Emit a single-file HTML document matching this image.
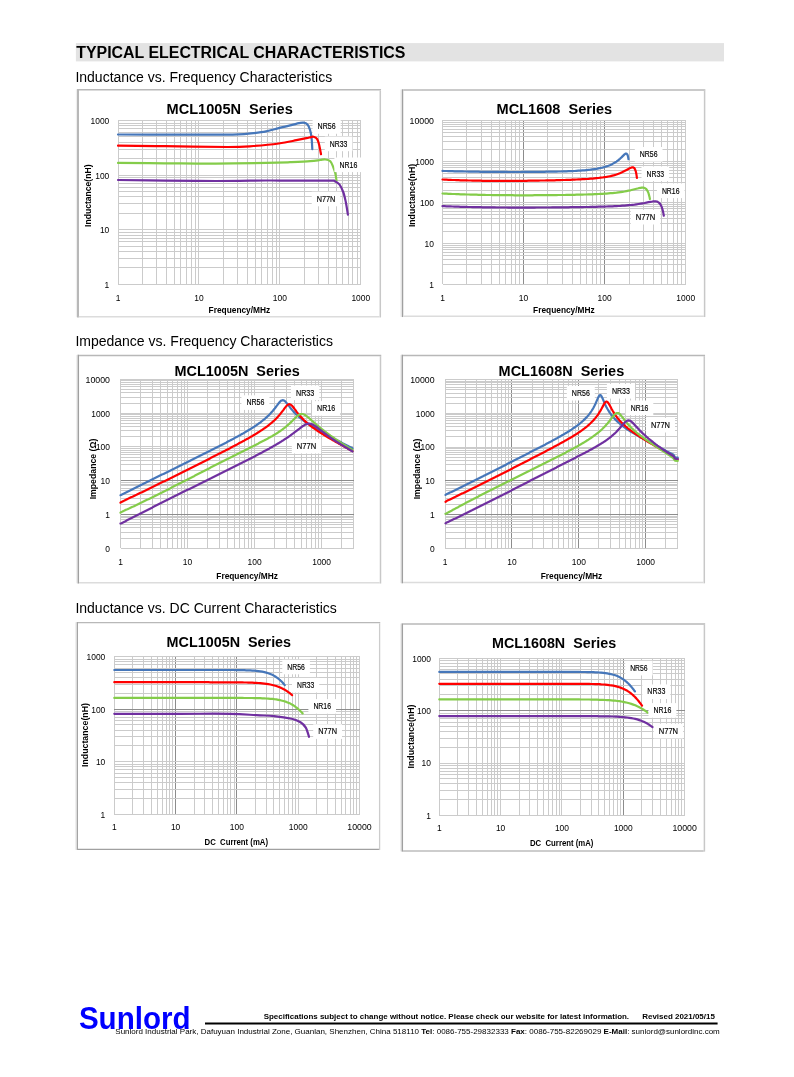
<!DOCTYPE html>
<html><head><meta charset="utf-8"><title>Typical Electrical Characteristics</title>
<style>html,body{margin:0;padding:0;background:#fff;}svg{display:block;will-change:transform;}text{white-space:pre;}</style></head>
<body><svg width="794" height="1077" viewBox="0 0 794 1077" font-family="'Liberation Sans', Arial, sans-serif">
<rect x="75.9" y="43.1" width="648.1" height="18.3" fill="#e3e3e3"/>
<text x="76.20" y="58.20" font-size="16" font-weight="bold" textLength="329.30" lengthAdjust="spacingAndGlyphs">TYPICAL ELECTRICAL CHARACTERISTICS</text>
<text x="75.40" y="81.90" font-size="14" textLength="256.80" lengthAdjust="spacingAndGlyphs">Inductance vs. Frequency Characteristics</text>
<text x="75.40" y="345.60" font-size="14">Impedance vs. Frequency Characteristics</text>
<text x="75.40" y="612.60" font-size="14">Inductance vs. DC Current Characteristics</text>
<rect x="78.00" y="89.80" width="302.30" height="226.90" fill="#fff"/>
<line x1="76.40" y1="89.30" x2="76.40" y2="317.20" stroke="#ececec" stroke-width="1"/>
<line x1="78.00" y1="89.05" x2="78.00" y2="317.45" stroke="#a0a0a0" stroke-width="1.5"/>
<line x1="78.75" y1="89.80" x2="381.05" y2="89.80" stroke="#b8b8b8" stroke-width="1.5"/>
<line x1="380.30" y1="90.55" x2="380.30" y2="317.45" stroke="#c8c8c8" stroke-width="1.5"/>
<line x1="78.75" y1="316.70" x2="379.55" y2="316.70" stroke="#dcdcdc" stroke-width="1.5"/>
<text x="229.70" y="114.20" font-size="14.3" font-weight="bold" text-anchor="middle" textLength="126.20" lengthAdjust="spacingAndGlyphs" xml:space="preserve">MCL1005N  Series</text>
<g stroke-width="1" shape-rendering="crispEdges"><line x1="118.00" y1="120.50" x2="118.00" y2="284.40" stroke="#cbcbcb"/><line x1="142.36" y1="120.50" x2="142.36" y2="284.40" stroke="#cbcbcb"/><line x1="156.62" y1="120.50" x2="156.62" y2="284.40" stroke="#cbcbcb"/><line x1="166.73" y1="120.50" x2="166.73" y2="284.40" stroke="#cbcbcb"/><line x1="174.57" y1="120.50" x2="174.57" y2="284.40" stroke="#cbcbcb"/><line x1="180.98" y1="120.50" x2="180.98" y2="284.40" stroke="#cbcbcb"/><line x1="186.40" y1="120.50" x2="186.40" y2="284.40" stroke="#cbcbcb"/><line x1="191.09" y1="120.50" x2="191.09" y2="284.40" stroke="#cbcbcb"/><line x1="195.23" y1="120.50" x2="195.23" y2="284.40" stroke="#cbcbcb"/><line x1="198.93" y1="120.50" x2="198.93" y2="284.40" stroke="#cbcbcb"/><line x1="223.30" y1="120.50" x2="223.30" y2="284.40" stroke="#cbcbcb"/><line x1="237.55" y1="120.50" x2="237.55" y2="284.40" stroke="#cbcbcb"/><line x1="247.66" y1="120.50" x2="247.66" y2="284.40" stroke="#cbcbcb"/><line x1="255.50" y1="120.50" x2="255.50" y2="284.40" stroke="#cbcbcb"/><line x1="261.91" y1="120.50" x2="261.91" y2="284.40" stroke="#cbcbcb"/><line x1="267.33" y1="120.50" x2="267.33" y2="284.40" stroke="#cbcbcb"/><line x1="272.02" y1="120.50" x2="272.02" y2="284.40" stroke="#cbcbcb"/><line x1="276.16" y1="120.50" x2="276.16" y2="284.40" stroke="#cbcbcb"/><line x1="279.87" y1="120.50" x2="279.87" y2="284.40" stroke="#cbcbcb"/><line x1="304.23" y1="120.50" x2="304.23" y2="284.40" stroke="#cbcbcb"/><line x1="318.48" y1="120.50" x2="318.48" y2="284.40" stroke="#cbcbcb"/><line x1="328.59" y1="120.50" x2="328.59" y2="284.40" stroke="#cbcbcb"/><line x1="336.44" y1="120.50" x2="336.44" y2="284.40" stroke="#cbcbcb"/><line x1="342.85" y1="120.50" x2="342.85" y2="284.40" stroke="#cbcbcb"/><line x1="348.26" y1="120.50" x2="348.26" y2="284.40" stroke="#cbcbcb"/><line x1="352.96" y1="120.50" x2="352.96" y2="284.40" stroke="#cbcbcb"/><line x1="357.10" y1="120.50" x2="357.10" y2="284.40" stroke="#cbcbcb"/><line x1="360.80" y1="120.50" x2="360.80" y2="284.40" stroke="#cbcbcb"/><line x1="118.00" y1="284.40" x2="360.80" y2="284.40" stroke="#cbcbcb"/><line x1="118.00" y1="267.95" x2="360.80" y2="267.95" stroke="#cbcbcb"/><line x1="118.00" y1="258.33" x2="360.80" y2="258.33" stroke="#cbcbcb"/><line x1="118.00" y1="251.51" x2="360.80" y2="251.51" stroke="#cbcbcb"/><line x1="118.00" y1="246.21" x2="360.80" y2="246.21" stroke="#cbcbcb"/><line x1="118.00" y1="241.89" x2="360.80" y2="241.89" stroke="#cbcbcb"/><line x1="118.00" y1="238.23" x2="360.80" y2="238.23" stroke="#cbcbcb"/><line x1="118.00" y1="235.06" x2="360.80" y2="235.06" stroke="#cbcbcb"/><line x1="118.00" y1="232.27" x2="360.80" y2="232.27" stroke="#cbcbcb"/><line x1="118.00" y1="229.77" x2="360.80" y2="229.77" stroke="#cbcbcb"/><line x1="118.00" y1="213.32" x2="360.80" y2="213.32" stroke="#cbcbcb"/><line x1="118.00" y1="203.70" x2="360.80" y2="203.70" stroke="#cbcbcb"/><line x1="118.00" y1="196.87" x2="360.80" y2="196.87" stroke="#cbcbcb"/><line x1="118.00" y1="191.58" x2="360.80" y2="191.58" stroke="#cbcbcb"/><line x1="118.00" y1="187.25" x2="360.80" y2="187.25" stroke="#cbcbcb"/><line x1="118.00" y1="183.60" x2="360.80" y2="183.60" stroke="#cbcbcb"/><line x1="118.00" y1="180.43" x2="360.80" y2="180.43" stroke="#cbcbcb"/><line x1="118.00" y1="177.63" x2="360.80" y2="177.63" stroke="#cbcbcb"/><line x1="118.00" y1="175.13" x2="360.80" y2="175.13" stroke="#cbcbcb"/><line x1="118.00" y1="158.69" x2="360.80" y2="158.69" stroke="#cbcbcb"/><line x1="118.00" y1="149.07" x2="360.80" y2="149.07" stroke="#cbcbcb"/><line x1="118.00" y1="142.24" x2="360.80" y2="142.24" stroke="#cbcbcb"/><line x1="118.00" y1="136.95" x2="360.80" y2="136.95" stroke="#cbcbcb"/><line x1="118.00" y1="132.62" x2="360.80" y2="132.62" stroke="#cbcbcb"/><line x1="118.00" y1="128.96" x2="360.80" y2="128.96" stroke="#cbcbcb"/><line x1="118.00" y1="125.79" x2="360.80" y2="125.79" stroke="#cbcbcb"/><line x1="118.00" y1="123.00" x2="360.80" y2="123.00" stroke="#cbcbcb"/><line x1="118.00" y1="120.50" x2="360.80" y2="120.50" stroke="#cbcbcb"/></g>
<text x="109.30" y="287.80" font-size="9.8" text-anchor="end" textLength="4.70" lengthAdjust="spacingAndGlyphs">1</text>
<text x="109.30" y="233.17" font-size="9.8" text-anchor="end" textLength="9.40" lengthAdjust="spacingAndGlyphs">10</text>
<text x="109.30" y="178.53" font-size="9.8" text-anchor="end" textLength="14.10" lengthAdjust="spacingAndGlyphs">100</text>
<text x="109.30" y="123.90" font-size="9.8" text-anchor="end" textLength="18.80" lengthAdjust="spacingAndGlyphs">1000</text>
<text x="118.00" y="300.60" font-size="9.8" text-anchor="middle" textLength="4.70" lengthAdjust="spacingAndGlyphs">1</text>
<text x="198.93" y="300.60" font-size="9.8" text-anchor="middle" textLength="9.40" lengthAdjust="spacingAndGlyphs">10</text>
<text x="279.87" y="300.60" font-size="9.8" text-anchor="middle" textLength="14.10" lengthAdjust="spacingAndGlyphs">100</text>
<text x="360.80" y="300.60" font-size="9.8" text-anchor="middle" textLength="18.80" lengthAdjust="spacingAndGlyphs">1000</text>
<text x="91.00" y="195.70" font-size="9.3" font-weight="bold" text-anchor="middle" textLength="62.40" lengthAdjust="spacingAndGlyphs" transform="rotate(-90 91.00 195.70)" xml:space="preserve">Inductance(nH)</text>
<text x="239.40" y="312.80" font-size="9.3" font-weight="bold" text-anchor="middle" textLength="61.60" lengthAdjust="spacingAndGlyphs" xml:space="preserve">Frequency/MHz</text>
<path d="M118.00,134.50 C125.8,134.5 148.8,134.6 165.0,134.6 C181.2,134.6 202.8,134.6 215.0,134.6 C227.2,134.6 232.0,134.7 238.4,134.4 C244.8,134.2 248.9,133.6 253.5,133.1 C258.1,132.6 261.9,132.2 266.1,131.4 C270.3,130.6 274.5,129.2 278.7,128.1 C282.9,127.0 287.9,125.9 291.3,125.1 C294.7,124.3 297.0,123.6 299.0,123.2 C301.0,122.8 302.1,122.4 303.5,122.6 C304.9,122.8 306.4,123.2 307.5,124.4 C308.6,125.6 309.3,127.7 310.0,129.8 C310.7,131.9 311.1,134.0 311.5,137.2 C311.9,140.4 312.2,147.2 312.3,149.2" fill="none" stroke="#4677BA" stroke-width="2.2" stroke-linecap="round" stroke-linejoin="round"/>
<path d="M118.00,145.70 C125.8,145.8 146.7,146.0 165.0,146.2 C183.3,146.4 213.2,147.0 228.0,147.0 C242.8,147.0 245.1,146.6 253.5,146.0 C261.9,145.4 271.6,144.5 278.7,143.5 C285.8,142.5 291.8,141.1 296.4,140.2 C301.0,139.3 304.0,138.7 306.4,138.2 C308.8,137.7 309.8,137.3 311.0,137.1 C312.2,136.9 312.5,136.5 313.5,136.8 C314.5,137.1 316.2,137.7 317.2,139.1 C318.1,140.5 318.6,142.6 319.2,145.1 C319.8,147.6 320.7,152.7 321.0,154.2" fill="none" stroke="#FF0000" stroke-width="2.2" stroke-linecap="round" stroke-linejoin="round"/>
<path d="M118.00,162.90 C125.8,163.0 148.7,163.2 165.0,163.3 C181.3,163.4 199.0,163.7 215.8,163.6 C232.7,163.5 253.7,163.1 266.1,162.9 C278.5,162.7 282.6,162.5 290.0,162.2 C297.4,161.9 305.2,161.6 310.2,161.2 C315.2,160.8 317.7,160.3 320.2,160.0 C322.7,159.7 323.6,159.3 325.3,159.5 C327.0,159.7 329.0,159.9 330.3,161.2 C331.6,162.5 332.5,165.3 333.3,167.3 C334.1,169.3 334.8,171.1 335.3,173.3 C335.8,175.5 336.3,179.2 336.5,180.4" fill="none" stroke="#84CC4A" stroke-width="2.2" stroke-linecap="round" stroke-linejoin="round"/>
<path d="M118.00,180.00 C125.8,180.1 148.7,180.4 165.0,180.6 C181.3,180.8 199.0,181.0 215.8,181.0 C232.7,181.0 253.7,180.6 266.1,180.5 C278.5,180.4 279.3,180.6 290.0,180.6 C300.7,180.6 322.9,180.5 330.3,180.6 C337.7,180.7 332.8,180.4 334.3,181.0 C335.8,181.6 337.9,182.5 339.4,184.4 C340.9,186.3 342.3,189.5 343.4,192.5 C344.5,195.5 345.1,198.8 345.9,202.5 C346.6,206.2 347.6,212.6 347.9,214.6" fill="none" stroke="#7030A0" stroke-width="2.2" stroke-linecap="round" stroke-linejoin="round"/>
<rect x="312.60" y="119.20" width="28.10" height="14.60" fill="#fff"/>
<text x="326.65" y="129.20" font-size="8.3" text-anchor="middle" textLength="18.10" lengthAdjust="spacingAndGlyphs" stroke="#000" stroke-width="0.15">NR56</text>
<rect x="324.80" y="136.60" width="27.60" height="14.60" fill="#fff"/>
<text x="338.60" y="146.60" font-size="8.3" text-anchor="middle" textLength="17.60" lengthAdjust="spacingAndGlyphs" stroke="#000" stroke-width="0.15">NR33</text>
<rect x="334.40" y="157.50" width="27.90" height="14.60" fill="#fff"/>
<text x="348.35" y="167.50" font-size="8.3" text-anchor="middle" textLength="17.90" lengthAdjust="spacingAndGlyphs" stroke="#000" stroke-width="0.15">NR16</text>
<rect x="311.70" y="191.70" width="28.60" height="14.60" fill="#fff"/>
<text x="326.00" y="201.70" font-size="8.3" text-anchor="middle" textLength="18.60" lengthAdjust="spacingAndGlyphs" stroke="#000" stroke-width="0.15">N77N</text>
<rect x="402.50" y="90.00" width="302.10" height="226.30" fill="#fff"/>
<line x1="400.90" y1="89.50" x2="400.90" y2="316.80" stroke="#ececec" stroke-width="1"/>
<line x1="402.50" y1="89.25" x2="402.50" y2="317.05" stroke="#a0a0a0" stroke-width="1.5"/>
<line x1="403.25" y1="90.00" x2="705.35" y2="90.00" stroke="#b8b8b8" stroke-width="1.5"/>
<line x1="704.60" y1="90.75" x2="704.60" y2="317.05" stroke="#c8c8c8" stroke-width="1.5"/>
<line x1="403.25" y1="316.30" x2="703.85" y2="316.30" stroke="#dcdcdc" stroke-width="1.5"/>
<text x="554.35" y="114.20" font-size="14.3" font-weight="bold" text-anchor="middle" textLength="115.50" lengthAdjust="spacingAndGlyphs" xml:space="preserve">MCL1608  Series</text>
<g stroke-width="1" shape-rendering="crispEdges"><line x1="442.50" y1="120.40" x2="442.50" y2="284.40" stroke="#cbcbcb"/><line x1="466.90" y1="120.40" x2="466.90" y2="284.40" stroke="#cbcbcb"/><line x1="481.18" y1="120.40" x2="481.18" y2="284.40" stroke="#cbcbcb"/><line x1="491.31" y1="120.40" x2="491.31" y2="284.40" stroke="#cbcbcb"/><line x1="499.16" y1="120.40" x2="499.16" y2="284.40" stroke="#cbcbcb"/><line x1="505.58" y1="120.40" x2="505.58" y2="284.40" stroke="#cbcbcb"/><line x1="511.01" y1="120.40" x2="511.01" y2="284.40" stroke="#cbcbcb"/><line x1="515.71" y1="120.40" x2="515.71" y2="284.40" stroke="#cbcbcb"/><line x1="519.86" y1="120.40" x2="519.86" y2="284.40" stroke="#cbcbcb"/><line x1="523.57" y1="120.40" x2="523.57" y2="284.40" stroke="#8c8c8c"/><line x1="547.97" y1="120.40" x2="547.97" y2="284.40" stroke="#cbcbcb"/><line x1="562.25" y1="120.40" x2="562.25" y2="284.40" stroke="#cbcbcb"/><line x1="572.37" y1="120.40" x2="572.37" y2="284.40" stroke="#cbcbcb"/><line x1="580.23" y1="120.40" x2="580.23" y2="284.40" stroke="#cbcbcb"/><line x1="586.65" y1="120.40" x2="586.65" y2="284.40" stroke="#cbcbcb"/><line x1="592.08" y1="120.40" x2="592.08" y2="284.40" stroke="#cbcbcb"/><line x1="596.78" y1="120.40" x2="596.78" y2="284.40" stroke="#cbcbcb"/><line x1="600.92" y1="120.40" x2="600.92" y2="284.40" stroke="#cbcbcb"/><line x1="604.63" y1="120.40" x2="604.63" y2="284.40" stroke="#8c8c8c"/><line x1="629.04" y1="120.40" x2="629.04" y2="284.40" stroke="#cbcbcb"/><line x1="643.31" y1="120.40" x2="643.31" y2="284.40" stroke="#cbcbcb"/><line x1="653.44" y1="120.40" x2="653.44" y2="284.40" stroke="#cbcbcb"/><line x1="661.30" y1="120.40" x2="661.30" y2="284.40" stroke="#cbcbcb"/><line x1="667.72" y1="120.40" x2="667.72" y2="284.40" stroke="#cbcbcb"/><line x1="673.14" y1="120.40" x2="673.14" y2="284.40" stroke="#cbcbcb"/><line x1="677.84" y1="120.40" x2="677.84" y2="284.40" stroke="#cbcbcb"/><line x1="681.99" y1="120.40" x2="681.99" y2="284.40" stroke="#cbcbcb"/><line x1="685.70" y1="120.40" x2="685.70" y2="284.40" stroke="#cbcbcb"/><line x1="442.50" y1="284.40" x2="685.70" y2="284.40" stroke="#cbcbcb"/><line x1="442.50" y1="272.06" x2="685.70" y2="272.06" stroke="#cbcbcb"/><line x1="442.50" y1="264.84" x2="685.70" y2="264.84" stroke="#cbcbcb"/><line x1="442.50" y1="259.72" x2="685.70" y2="259.72" stroke="#cbcbcb"/><line x1="442.50" y1="255.74" x2="685.70" y2="255.74" stroke="#cbcbcb"/><line x1="442.50" y1="252.50" x2="685.70" y2="252.50" stroke="#cbcbcb"/><line x1="442.50" y1="249.75" x2="685.70" y2="249.75" stroke="#cbcbcb"/><line x1="442.50" y1="247.37" x2="685.70" y2="247.37" stroke="#cbcbcb"/><line x1="442.50" y1="245.28" x2="685.70" y2="245.28" stroke="#cbcbcb"/><line x1="442.50" y1="243.40" x2="685.70" y2="243.40" stroke="#cbcbcb"/><line x1="442.50" y1="231.06" x2="685.70" y2="231.06" stroke="#cbcbcb"/><line x1="442.50" y1="223.84" x2="685.70" y2="223.84" stroke="#cbcbcb"/><line x1="442.50" y1="218.72" x2="685.70" y2="218.72" stroke="#cbcbcb"/><line x1="442.50" y1="214.74" x2="685.70" y2="214.74" stroke="#cbcbcb"/><line x1="442.50" y1="211.50" x2="685.70" y2="211.50" stroke="#cbcbcb"/><line x1="442.50" y1="208.75" x2="685.70" y2="208.75" stroke="#cbcbcb"/><line x1="442.50" y1="206.37" x2="685.70" y2="206.37" stroke="#cbcbcb"/><line x1="442.50" y1="204.28" x2="685.70" y2="204.28" stroke="#cbcbcb"/><line x1="442.50" y1="202.40" x2="685.70" y2="202.40" stroke="#cbcbcb"/><line x1="442.50" y1="190.06" x2="685.70" y2="190.06" stroke="#cbcbcb"/><line x1="442.50" y1="182.84" x2="685.70" y2="182.84" stroke="#cbcbcb"/><line x1="442.50" y1="177.72" x2="685.70" y2="177.72" stroke="#cbcbcb"/><line x1="442.50" y1="173.74" x2="685.70" y2="173.74" stroke="#cbcbcb"/><line x1="442.50" y1="170.50" x2="685.70" y2="170.50" stroke="#cbcbcb"/><line x1="442.50" y1="167.75" x2="685.70" y2="167.75" stroke="#cbcbcb"/><line x1="442.50" y1="165.37" x2="685.70" y2="165.37" stroke="#cbcbcb"/><line x1="442.50" y1="163.28" x2="685.70" y2="163.28" stroke="#cbcbcb"/><line x1="442.50" y1="161.40" x2="685.70" y2="161.40" stroke="#cbcbcb"/><line x1="442.50" y1="149.06" x2="685.70" y2="149.06" stroke="#cbcbcb"/><line x1="442.50" y1="141.84" x2="685.70" y2="141.84" stroke="#cbcbcb"/><line x1="442.50" y1="136.72" x2="685.70" y2="136.72" stroke="#cbcbcb"/><line x1="442.50" y1="132.74" x2="685.70" y2="132.74" stroke="#cbcbcb"/><line x1="442.50" y1="129.50" x2="685.70" y2="129.50" stroke="#cbcbcb"/><line x1="442.50" y1="126.75" x2="685.70" y2="126.75" stroke="#cbcbcb"/><line x1="442.50" y1="124.37" x2="685.70" y2="124.37" stroke="#cbcbcb"/><line x1="442.50" y1="122.28" x2="685.70" y2="122.28" stroke="#cbcbcb"/><line x1="442.50" y1="120.40" x2="685.70" y2="120.40" stroke="#cbcbcb"/></g>
<text x="434.00" y="287.80" font-size="9.8" text-anchor="end" textLength="4.70" lengthAdjust="spacingAndGlyphs">1</text>
<text x="434.00" y="246.80" font-size="9.8" text-anchor="end" textLength="9.40" lengthAdjust="spacingAndGlyphs">10</text>
<text x="434.00" y="205.80" font-size="9.8" text-anchor="end" textLength="14.10" lengthAdjust="spacingAndGlyphs">100</text>
<text x="434.00" y="164.80" font-size="9.8" text-anchor="end" textLength="18.80" lengthAdjust="spacingAndGlyphs">1000</text>
<text x="434.00" y="123.80" font-size="9.8" text-anchor="end" textLength="24.40" lengthAdjust="spacingAndGlyphs">10000</text>
<text x="442.50" y="300.70" font-size="9.8" text-anchor="middle" textLength="4.70" lengthAdjust="spacingAndGlyphs">1</text>
<text x="523.57" y="300.70" font-size="9.8" text-anchor="middle" textLength="9.40" lengthAdjust="spacingAndGlyphs">10</text>
<text x="604.63" y="300.70" font-size="9.8" text-anchor="middle" textLength="14.10" lengthAdjust="spacingAndGlyphs">100</text>
<text x="685.70" y="300.70" font-size="9.8" text-anchor="middle" textLength="18.80" lengthAdjust="spacingAndGlyphs">1000</text>
<text x="415.30" y="195.50" font-size="9.3" font-weight="bold" text-anchor="middle" textLength="63.20" lengthAdjust="spacingAndGlyphs" transform="rotate(-90 415.30 195.50)" xml:space="preserve">Inductance(nH)</text>
<text x="563.90" y="312.80" font-size="9.3" font-weight="bold" text-anchor="middle" textLength="61.60" lengthAdjust="spacingAndGlyphs" xml:space="preserve">Frequency/MHz</text>
<path d="M442.5,170.9 444.5,171.0 446.5,171.0 448.5,171.1 450.5,171.2 452.5,171.2 454.5,171.3 456.5,171.3 458.5,171.4 460.5,171.4 462.5,171.4 464.5,171.5 466.5,171.5 468.5,171.6 470.5,171.6 472.5,171.6 474.5,171.7 476.5,171.7 478.5,171.7 480.5,171.8 482.5,171.8 484.5,171.8 486.5,171.8 488.5,171.8 490.5,171.9 492.5,171.9 494.5,171.9 496.5,171.9 498.5,171.9 500.5,171.9 502.5,171.9 504.5,171.9 506.5,171.9 508.5,172.0 510.5,172.0 512.5,172.0 514.5,172.0 516.5,172.0 518.5,172.0 520.5,172.0 522.5,171.9 524.5,171.9 526.5,171.9 528.5,171.9 530.5,171.9 532.5,171.9 534.5,171.9 536.5,171.9 538.5,171.8 540.5,171.8 542.5,171.8 544.5,171.8 546.5,171.7 548.5,171.7 550.5,171.7 552.5,171.7 554.5,171.6 556.5,171.6 558.5,171.5 560.5,171.5 562.5,171.4 564.5,171.4 566.5,171.3 568.5,171.2 570.5,171.1 572.5,171.1 574.5,171.0 576.5,170.8 578.5,170.7 580.5,170.6 582.5,170.4 584.5,170.3 586.5,170.1 588.5,169.9 590.5,169.7 592.5,169.4 594.5,169.1 596.5,168.8 598.5,168.4 600.5,168.0 602.5,167.6 604.5,167.0 606.5,166.4 608.5,165.7 610.5,164.9 612.5,163.9 614.5,162.8 616.5,161.6 617.0,161.2 617.5,160.8 618.0,160.5 618.5,160.1 619.0,159.6 619.5,159.2 620.0,158.8 620.5,158.3 621.0,157.8 621.5,157.4 622.0,156.9 622.5,156.4 623.0,155.9 623.5,155.4 624.0,154.9 624.5,154.4 625.0,154.0 625.5,153.7 626.0,153.6 626.5,153.6 627.0,154.0 627.5,154.9 628.0,156.4 628.5,159.2" fill="none" stroke="#4677BA" stroke-width="2.2" stroke-linecap="round" stroke-linejoin="round"/>
<path d="M442.5,179.5 444.5,179.6 446.5,179.7 448.5,179.8 450.5,179.9 452.5,180.0 454.5,180.0 456.5,180.1 458.5,180.2 460.5,180.3 462.5,180.3 464.5,180.4 466.5,180.4 468.5,180.5 470.5,180.5 472.5,180.6 474.5,180.6 476.5,180.7 478.5,180.7 480.5,180.7 482.5,180.8 484.5,180.8 486.5,180.8 488.5,180.9 490.5,180.9 492.5,180.9 494.5,180.9 496.5,180.9 498.5,180.9 500.5,180.9 502.5,180.9 504.5,180.9 506.5,180.9 508.5,180.9 510.5,180.9 512.5,180.9 514.5,180.9 516.5,180.9 518.5,180.8 520.5,180.8 522.5,180.8 524.5,180.8 526.5,180.8 528.5,180.7 530.5,180.7 532.5,180.7 534.5,180.7 536.5,180.6 538.5,180.6 540.5,180.5 542.5,180.5 544.5,180.5 546.5,180.4 548.5,180.4 550.5,180.3 552.5,180.3 554.5,180.3 556.5,180.2 558.5,180.1 560.5,180.1 562.5,180.0 564.5,180.0 566.5,179.9 568.5,179.8 570.5,179.8 572.5,179.7 574.5,179.6 576.5,179.5 578.5,179.4 580.5,179.3 582.5,179.2 584.5,179.1 586.5,179.0 588.5,178.9 590.5,178.7 592.5,178.6 594.5,178.4 596.5,178.2 598.5,178.0 600.5,177.7 602.5,177.5 604.5,177.2 606.5,176.9 608.5,176.5 610.5,176.1 612.5,175.6 614.5,175.1 616.5,174.5 618.5,173.8 620.5,173.0 622.5,172.1 624.5,171.1 626.5,170.1 627.0,169.8 627.5,169.5 628.0,169.2 628.5,168.9 629.0,168.6 629.5,168.4 630.0,168.1 630.5,167.9 631.0,167.7 631.5,167.5 632.0,167.4 632.5,167.3 633.0,167.3 633.5,167.5 634.0,167.9 634.5,168.4 635.0,169.3 635.5,170.5 636.0,172.3 636.5,174.9 636.9,177.8" fill="none" stroke="#FF0000" stroke-width="2.2" stroke-linecap="round" stroke-linejoin="round"/>
<path d="M442.5,193.5 444.5,193.6 446.5,193.7 448.5,193.8 450.5,193.9 452.5,194.0 454.5,194.0 456.5,194.1 458.5,194.2 460.5,194.3 462.5,194.3 464.5,194.4 466.5,194.5 468.5,194.5 470.5,194.6 472.5,194.6 474.5,194.7 476.5,194.7 478.5,194.8 480.5,194.8 482.5,194.9 484.5,194.9 486.5,195.0 488.5,195.0 490.5,195.0 492.5,195.1 494.5,195.1 496.5,195.1 498.5,195.1 500.5,195.2 502.5,195.2 504.5,195.2 506.5,195.2 508.5,195.2 510.5,195.2 512.5,195.2 514.5,195.3 516.5,195.3 518.5,195.3 520.5,195.3 522.5,195.3 524.5,195.3 526.5,195.3 528.5,195.3 530.5,195.3 532.5,195.3 534.5,195.2 536.5,195.2 538.5,195.2 540.5,195.2 542.5,195.2 544.5,195.2 546.5,195.2 548.5,195.1 550.5,195.1 552.5,195.1 554.5,195.1 556.5,195.1 558.5,195.0 560.5,195.0 562.5,195.0 564.5,195.0 566.5,194.9 568.5,194.9 570.5,194.9 572.5,194.8 574.5,194.8 576.5,194.7 578.5,194.7 580.5,194.6 582.5,194.6 584.5,194.5 586.5,194.5 588.5,194.4 590.5,194.4 592.5,194.3 594.5,194.2 596.5,194.1 598.5,194.0 600.5,193.9 602.5,193.8 604.5,193.7 606.5,193.6 608.5,193.4 610.5,193.2 612.5,193.1 614.5,192.9 616.5,192.7 618.5,192.4 620.5,192.1 622.5,191.8 624.5,191.5 626.5,191.1 628.5,190.7 630.5,190.3 632.5,189.8 634.5,189.3 636.5,188.8 638.5,188.3 639.0,188.1 639.5,188.0 640.0,187.9 640.5,187.8 641.0,187.8 641.5,187.7 642.0,187.7 642.5,187.7 643.0,187.7 643.5,187.7 644.0,187.8 644.5,188.0 645.0,188.2 645.5,188.5 646.0,188.9 646.5,189.4 647.0,190.1 647.5,190.9 648.0,191.9 648.5,193.2 649.0,194.9 649.5,196.9 649.9,199.0" fill="none" stroke="#84CC4A" stroke-width="2.2" stroke-linecap="round" stroke-linejoin="round"/>
<path d="M442.5,206.1 444.5,206.2 446.5,206.3 448.5,206.4 450.5,206.4 452.5,206.5 454.5,206.6 456.5,206.6 458.5,206.7 460.5,206.8 462.5,206.8 464.5,206.9 466.5,206.9 468.5,207.0 470.5,207.0 472.5,207.1 474.5,207.1 476.5,207.2 478.5,207.2 480.5,207.2 482.5,207.3 484.5,207.3 486.5,207.3 488.5,207.4 490.5,207.4 492.5,207.4 494.5,207.4 496.5,207.5 498.5,207.5 500.5,207.5 502.5,207.5 504.5,207.5 506.5,207.5 508.5,207.6 510.5,207.6 512.5,207.6 514.5,207.6 516.5,207.6 518.5,207.6 520.5,207.6 522.5,207.6 524.5,207.6 526.5,207.6 528.5,207.6 530.5,207.6 532.5,207.6 534.5,207.6 536.5,207.5 538.5,207.5 540.5,207.5 542.5,207.5 544.5,207.5 546.5,207.5 548.5,207.5 550.5,207.5 552.5,207.4 554.5,207.4 556.5,207.4 558.5,207.4 560.5,207.4 562.5,207.3 564.5,207.3 566.5,207.3 568.5,207.3 570.5,207.2 572.5,207.2 574.5,207.2 576.5,207.2 578.5,207.1 580.5,207.1 582.5,207.1 584.5,207.0 586.5,207.0 588.5,207.0 590.5,206.9 592.5,206.9 594.5,206.8 596.5,206.8 598.5,206.7 600.5,206.7 602.5,206.6 604.5,206.6 606.5,206.5 608.5,206.4 610.5,206.4 612.5,206.3 614.5,206.2 616.5,206.1 618.5,206.0 620.5,205.9 622.5,205.7 624.5,205.6 626.5,205.4 628.5,205.2 630.5,205.0 632.5,204.8 634.5,204.6 636.5,204.3 638.5,204.0 640.5,203.7 642.5,203.3 644.5,203.0 646.5,202.6 648.5,202.2 650.5,201.8 652.5,201.5 653.0,201.4 653.5,201.4 654.0,201.3 654.5,201.3 655.0,201.3 655.5,201.4 656.0,201.4 656.5,201.5 657.0,201.6 657.5,201.8 658.0,202.1 658.5,202.4 659.0,202.8 659.5,203.2 660.0,203.8 660.5,204.6 661.0,205.4 661.5,206.5 662.0,207.9 662.5,209.5 663.0,211.5 663.5,213.9 663.8,215.7" fill="none" stroke="#7030A0" stroke-width="2.2" stroke-linecap="round" stroke-linejoin="round"/>
<rect x="634.80" y="147.00" width="27.70" height="14.60" fill="#fff"/>
<text x="648.65" y="157.00" font-size="8.3" text-anchor="middle" textLength="17.70" lengthAdjust="spacingAndGlyphs" stroke="#000" stroke-width="0.15">NR56</text>
<rect x="641.50" y="166.50" width="27.60" height="14.60" fill="#fff"/>
<text x="655.30" y="176.50" font-size="8.3" text-anchor="middle" textLength="17.60" lengthAdjust="spacingAndGlyphs" stroke="#000" stroke-width="0.15">NR33</text>
<rect x="656.90" y="183.50" width="27.60" height="14.60" fill="#fff"/>
<text x="670.70" y="193.50" font-size="8.3" text-anchor="middle" textLength="17.60" lengthAdjust="spacingAndGlyphs" stroke="#000" stroke-width="0.15">NR16</text>
<rect x="630.80" y="209.90" width="29.40" height="14.60" fill="#fff"/>
<text x="645.50" y="219.90" font-size="8.3" text-anchor="middle" textLength="19.40" lengthAdjust="spacingAndGlyphs" stroke="#000" stroke-width="0.15">N77N</text>
<rect x="78.30" y="355.40" width="302.20" height="227.40" fill="#fff"/>
<line x1="76.70" y1="354.90" x2="76.70" y2="583.30" stroke="#ececec" stroke-width="1"/>
<line x1="78.30" y1="354.65" x2="78.30" y2="583.55" stroke="#a0a0a0" stroke-width="1.5"/>
<line x1="79.05" y1="355.40" x2="381.25" y2="355.40" stroke="#b8b8b8" stroke-width="1.5"/>
<line x1="380.50" y1="356.15" x2="380.50" y2="583.55" stroke="#c8c8c8" stroke-width="1.5"/>
<line x1="79.05" y1="582.80" x2="379.75" y2="582.80" stroke="#dcdcdc" stroke-width="1.5"/>
<text x="237.15" y="375.60" font-size="14.3" font-weight="bold" text-anchor="middle" textLength="125.10" lengthAdjust="spacingAndGlyphs" xml:space="preserve">MCL1005N  Series</text>
<g stroke-width="1" shape-rendering="crispEdges"><line x1="120.50" y1="379.40" x2="120.50" y2="548.30" stroke="#cbcbcb"/><line x1="140.68" y1="379.40" x2="140.68" y2="548.30" stroke="#cbcbcb"/><line x1="152.49" y1="379.40" x2="152.49" y2="548.30" stroke="#cbcbcb"/><line x1="160.86" y1="379.40" x2="160.86" y2="548.30" stroke="#cbcbcb"/><line x1="167.36" y1="379.40" x2="167.36" y2="548.30" stroke="#cbcbcb"/><line x1="172.67" y1="379.40" x2="172.67" y2="548.30" stroke="#cbcbcb"/><line x1="177.15" y1="379.40" x2="177.15" y2="548.30" stroke="#cbcbcb"/><line x1="181.04" y1="379.40" x2="181.04" y2="548.30" stroke="#cbcbcb"/><line x1="184.47" y1="379.40" x2="184.47" y2="548.30" stroke="#cbcbcb"/><line x1="187.54" y1="379.40" x2="187.54" y2="548.30" stroke="#cbcbcb"/><line x1="207.72" y1="379.40" x2="207.72" y2="548.30" stroke="#cbcbcb"/><line x1="219.52" y1="379.40" x2="219.52" y2="548.30" stroke="#cbcbcb"/><line x1="227.90" y1="379.40" x2="227.90" y2="548.30" stroke="#cbcbcb"/><line x1="234.40" y1="379.40" x2="234.40" y2="548.30" stroke="#cbcbcb"/><line x1="239.70" y1="379.40" x2="239.70" y2="548.30" stroke="#cbcbcb"/><line x1="244.19" y1="379.40" x2="244.19" y2="548.30" stroke="#cbcbcb"/><line x1="248.08" y1="379.40" x2="248.08" y2="548.30" stroke="#cbcbcb"/><line x1="251.51" y1="379.40" x2="251.51" y2="548.30" stroke="#cbcbcb"/><line x1="254.58" y1="379.40" x2="254.58" y2="548.30" stroke="#cbcbcb"/><line x1="274.76" y1="379.40" x2="274.76" y2="548.30" stroke="#cbcbcb"/><line x1="286.56" y1="379.40" x2="286.56" y2="548.30" stroke="#cbcbcb"/><line x1="294.94" y1="379.40" x2="294.94" y2="548.30" stroke="#cbcbcb"/><line x1="301.43" y1="379.40" x2="301.43" y2="548.30" stroke="#cbcbcb"/><line x1="306.74" y1="379.40" x2="306.74" y2="548.30" stroke="#cbcbcb"/><line x1="311.23" y1="379.40" x2="311.23" y2="548.30" stroke="#cbcbcb"/><line x1="315.12" y1="379.40" x2="315.12" y2="548.30" stroke="#cbcbcb"/><line x1="318.55" y1="379.40" x2="318.55" y2="548.30" stroke="#cbcbcb"/><line x1="321.61" y1="379.40" x2="321.61" y2="548.30" stroke="#cbcbcb"/><line x1="341.80" y1="379.40" x2="341.80" y2="548.30" stroke="#cbcbcb"/><line x1="353.60" y1="379.40" x2="353.60" y2="548.30" stroke="#cbcbcb"/><line x1="120.50" y1="548.30" x2="353.60" y2="548.30" stroke="#cbcbcb"/><line x1="120.50" y1="538.13" x2="353.60" y2="538.13" stroke="#cbcbcb"/><line x1="120.50" y1="532.18" x2="353.60" y2="532.18" stroke="#cbcbcb"/><line x1="120.50" y1="527.96" x2="353.60" y2="527.96" stroke="#cbcbcb"/><line x1="120.50" y1="524.69" x2="353.60" y2="524.69" stroke="#cbcbcb"/><line x1="120.50" y1="522.01" x2="353.60" y2="522.01" stroke="#cbcbcb"/><line x1="120.50" y1="519.75" x2="353.60" y2="519.75" stroke="#cbcbcb"/><line x1="120.50" y1="517.79" x2="353.60" y2="517.79" stroke="#cbcbcb"/><line x1="120.50" y1="516.07" x2="353.60" y2="516.07" stroke="#cbcbcb"/><line x1="120.50" y1="514.52" x2="353.60" y2="514.52" stroke="#8c8c8c"/><line x1="120.50" y1="504.35" x2="353.60" y2="504.35" stroke="#cbcbcb"/><line x1="120.50" y1="498.40" x2="353.60" y2="498.40" stroke="#cbcbcb"/><line x1="120.50" y1="494.18" x2="353.60" y2="494.18" stroke="#cbcbcb"/><line x1="120.50" y1="490.91" x2="353.60" y2="490.91" stroke="#cbcbcb"/><line x1="120.50" y1="488.23" x2="353.60" y2="488.23" stroke="#cbcbcb"/><line x1="120.50" y1="485.97" x2="353.60" y2="485.97" stroke="#cbcbcb"/><line x1="120.50" y1="484.01" x2="353.60" y2="484.01" stroke="#cbcbcb"/><line x1="120.50" y1="482.29" x2="353.60" y2="482.29" stroke="#cbcbcb"/><line x1="120.50" y1="480.74" x2="353.60" y2="480.74" stroke="#8c8c8c"/><line x1="120.50" y1="470.57" x2="353.60" y2="470.57" stroke="#cbcbcb"/><line x1="120.50" y1="464.62" x2="353.60" y2="464.62" stroke="#cbcbcb"/><line x1="120.50" y1="460.40" x2="353.60" y2="460.40" stroke="#cbcbcb"/><line x1="120.50" y1="457.13" x2="353.60" y2="457.13" stroke="#cbcbcb"/><line x1="120.50" y1="454.45" x2="353.60" y2="454.45" stroke="#cbcbcb"/><line x1="120.50" y1="452.19" x2="353.60" y2="452.19" stroke="#cbcbcb"/><line x1="120.50" y1="450.23" x2="353.60" y2="450.23" stroke="#cbcbcb"/><line x1="120.50" y1="448.51" x2="353.60" y2="448.51" stroke="#cbcbcb"/><line x1="120.50" y1="446.96" x2="353.60" y2="446.96" stroke="#cbcbcb"/><line x1="120.50" y1="436.79" x2="353.60" y2="436.79" stroke="#cbcbcb"/><line x1="120.50" y1="430.84" x2="353.60" y2="430.84" stroke="#cbcbcb"/><line x1="120.50" y1="426.62" x2="353.60" y2="426.62" stroke="#cbcbcb"/><line x1="120.50" y1="423.35" x2="353.60" y2="423.35" stroke="#cbcbcb"/><line x1="120.50" y1="420.67" x2="353.60" y2="420.67" stroke="#cbcbcb"/><line x1="120.50" y1="418.41" x2="353.60" y2="418.41" stroke="#cbcbcb"/><line x1="120.50" y1="416.45" x2="353.60" y2="416.45" stroke="#cbcbcb"/><line x1="120.50" y1="414.73" x2="353.60" y2="414.73" stroke="#cbcbcb"/><line x1="120.50" y1="413.18" x2="353.60" y2="413.18" stroke="#cbcbcb"/><line x1="120.50" y1="403.01" x2="353.60" y2="403.01" stroke="#cbcbcb"/><line x1="120.50" y1="397.06" x2="353.60" y2="397.06" stroke="#cbcbcb"/><line x1="120.50" y1="392.84" x2="353.60" y2="392.84" stroke="#cbcbcb"/><line x1="120.50" y1="389.57" x2="353.60" y2="389.57" stroke="#cbcbcb"/><line x1="120.50" y1="386.89" x2="353.60" y2="386.89" stroke="#cbcbcb"/><line x1="120.50" y1="384.63" x2="353.60" y2="384.63" stroke="#cbcbcb"/><line x1="120.50" y1="382.67" x2="353.60" y2="382.67" stroke="#cbcbcb"/><line x1="120.50" y1="380.95" x2="353.60" y2="380.95" stroke="#cbcbcb"/><line x1="120.50" y1="379.40" x2="353.60" y2="379.40" stroke="#cbcbcb"/></g>
<text x="110.00" y="551.70" font-size="9.8" text-anchor="end" textLength="4.70" lengthAdjust="spacingAndGlyphs">0</text>
<text x="110.00" y="517.92" font-size="9.8" text-anchor="end" textLength="4.70" lengthAdjust="spacingAndGlyphs">1</text>
<text x="110.00" y="484.14" font-size="9.8" text-anchor="end" textLength="9.40" lengthAdjust="spacingAndGlyphs">10</text>
<text x="110.00" y="450.36" font-size="9.8" text-anchor="end" textLength="14.10" lengthAdjust="spacingAndGlyphs">100</text>
<text x="110.00" y="416.58" font-size="9.8" text-anchor="end" textLength="18.80" lengthAdjust="spacingAndGlyphs">1000</text>
<text x="110.00" y="382.80" font-size="9.8" text-anchor="end" textLength="24.40" lengthAdjust="spacingAndGlyphs">10000</text>
<text x="120.50" y="564.80" font-size="9.8" text-anchor="middle" textLength="4.70" lengthAdjust="spacingAndGlyphs">1</text>
<text x="187.54" y="564.80" font-size="9.8" text-anchor="middle" textLength="9.40" lengthAdjust="spacingAndGlyphs">10</text>
<text x="254.58" y="564.80" font-size="9.8" text-anchor="middle" textLength="14.10" lengthAdjust="spacingAndGlyphs">100</text>
<text x="321.61" y="564.80" font-size="9.8" text-anchor="middle" textLength="18.80" lengthAdjust="spacingAndGlyphs">1000</text>
<text x="95.50" y="469.00" font-size="9.3" font-weight="bold" text-anchor="middle" textLength="60.70" lengthAdjust="spacingAndGlyphs" transform="rotate(-90 95.50 469.00)" xml:space="preserve">Impedance (Ω)</text>
<text x="247.10" y="578.70" font-size="9.3" font-weight="bold" text-anchor="middle" textLength="61.60" lengthAdjust="spacingAndGlyphs" xml:space="preserve">Frequency/MHz</text>
<path d="M120.5,495.2 121.5,494.7 122.5,494.2 123.5,493.7 124.5,493.2 125.5,492.7 126.5,492.2 127.5,491.7 128.5,491.2 129.5,490.7 130.5,490.2 131.5,489.7 132.5,489.2 133.5,488.7 134.5,488.2 135.5,487.7 136.5,487.2 137.5,486.7 138.5,486.2 139.5,485.7 140.5,485.2 141.5,484.7 142.5,484.3 143.5,483.8 144.5,483.3 145.5,482.8 146.5,482.3 147.5,481.8 148.5,481.3 149.5,480.8 150.5,480.3 151.5,479.8 152.5,479.3 153.5,478.8 154.5,478.3 155.5,477.8 156.5,477.3 157.5,476.8 158.5,476.3 159.5,475.8 160.5,475.3 161.5,474.8 162.5,474.3 163.5,473.9 164.5,473.4 165.5,472.9 166.5,472.4 167.5,471.9 168.5,471.4 169.5,470.9 170.5,470.4 171.5,469.9 172.5,469.4 173.5,468.9 174.5,468.4 175.5,467.9 176.5,467.4 177.5,466.9 178.5,466.4 179.5,465.9 180.5,465.4 181.5,465.0 182.5,464.5 183.5,464.0 184.5,463.5 185.5,463.0 186.5,462.5 187.5,462.0 188.5,461.5 189.5,461.0 190.5,460.5 191.5,460.0 192.5,459.5 193.5,459.0 194.5,458.5 195.5,458.0 196.5,457.5 197.5,457.0 198.5,456.5 199.5,456.0 200.5,455.5 201.5,455.0 202.5,454.5 203.5,454.0 204.5,453.5 205.5,453.0 206.5,452.5 207.5,452.0 208.5,451.5 209.5,451.0 210.5,450.5 211.5,450.0 212.5,449.5 213.5,449.0 214.5,448.5 215.5,448.0 216.5,447.5 217.5,447.0 218.5,446.5 219.5,446.0 220.5,445.4 221.5,444.9 222.5,444.4 223.5,443.9 224.5,443.4 225.5,442.9 226.5,442.4 227.5,441.8 228.5,441.3 229.5,440.8 230.5,440.3 231.5,439.7 232.5,439.2 233.5,438.7 234.5,438.1 235.5,437.6 236.5,437.1 237.5,436.5 238.5,436.0 239.5,435.4 240.5,434.9 241.5,434.3 242.5,433.7 243.5,433.2 244.5,432.6 245.5,432.0 246.5,431.4 247.5,430.8 248.5,430.2 249.5,429.6 250.5,429.0 251.5,428.4 252.5,427.8 253.5,427.1 254.5,426.5 255.5,425.8 256.5,425.1 257.5,424.5 258.5,423.7 259.5,423.0 260.5,422.3 261.5,421.5 262.5,420.7 263.5,419.9 264.5,419.1 265.5,418.2 266.5,417.4 267.5,416.4 268.5,415.5 269.5,414.5 270.5,413.4 271.5,412.3 272.5,411.2 273.5,410.0 274.5,408.8 275.5,407.5 276.5,406.1 277.5,404.8 278.5,403.5 279.5,402.3 280.5,401.2 281.5,400.5 282.5,400.2 283.5,400.3 284.5,400.9 285.5,401.7 286.5,402.9 287.5,404.1 288.5,405.4 289.5,406.7 290.5,408.0 291.5,409.2 292.5,410.4 293.5,411.6 294.5,412.6 295.5,413.7 296.5,414.7 297.5,415.6 298.5,416.5 299.5,417.4 300.5,418.2 301.5,419.0 302.5,419.8 303.5,420.6 304.5,421.3 305.5,422.0 306.5,422.7 307.5,423.4 308.5,424.1 309.5,424.7 310.5,425.1 311.5,425.8 312.5,426.4 313.5,427.1 314.5,427.7 315.5,428.3 316.5,428.9 317.5,429.5 318.5,430.1 319.5,430.7 320.5,431.3 321.5,431.8 322.5,432.4 323.5,433.0 324.5,433.5 325.5,434.1 326.5,434.6 327.5,435.2 328.5,435.7 329.5,436.3 330.5,436.8 331.5,437.4 332.5,437.9 333.5,438.4 334.5,439.0 335.5,439.5 336.5,440.0 337.5,440.6 338.5,441.1 339.5,441.6 340.5,442.1 341.5,442.6 342.5,443.2 343.5,443.7 344.5,444.2 345.5,444.7 346.5,445.2 347.5,445.7 348.5,446.3 349.5,446.8 350.5,447.3 351.5,447.8 352.5,448.3" fill="none" stroke="#4677BA" stroke-width="2.2" stroke-linecap="round" stroke-linejoin="round"/>
<path d="M120.5,502.7 121.5,501.9 122.5,501.4 123.5,500.9 124.5,500.5 125.5,500.0 126.5,499.5 127.5,499.0 128.5,498.6 129.5,498.1 130.5,497.6 131.5,497.1 132.5,496.7 133.5,496.2 134.5,495.7 135.5,495.2 136.5,494.8 137.5,494.3 138.5,493.8 139.5,493.3 140.5,492.8 141.5,492.4 142.5,491.9 143.5,491.4 144.5,490.9 145.5,490.4 146.5,489.9 147.5,489.5 148.5,489.0 149.5,488.5 150.5,488.0 151.5,487.5 152.5,487.0 153.5,486.5 154.5,486.1 155.5,485.6 156.5,485.1 157.5,484.6 158.5,484.1 159.5,483.6 160.5,483.1 161.5,482.6 162.5,482.1 163.5,481.6 164.5,481.2 165.5,480.7 166.5,480.2 167.5,479.7 168.5,479.2 169.5,478.7 170.5,478.2 171.5,477.7 172.5,477.2 173.5,476.7 174.5,476.2 175.5,475.7 176.5,475.2 177.5,474.7 178.5,474.2 179.5,473.7 180.5,473.2 181.5,472.7 182.5,472.2 183.5,471.7 184.5,471.2 185.5,470.7 186.5,470.2 187.5,469.7 188.5,469.2 189.5,468.7 190.5,468.2 191.5,467.7 192.5,467.2 193.5,466.7 194.5,466.2 195.5,465.7 196.5,465.2 197.5,464.7 198.5,464.2 199.5,463.7 200.5,463.2 201.5,462.7 202.5,462.2 203.5,461.7 204.5,461.2 205.5,460.7 206.5,460.2 207.5,459.7 208.5,459.2 209.5,458.7 210.5,458.1 211.5,457.6 212.5,457.1 213.5,456.6 214.5,456.1 215.5,455.6 216.5,455.1 217.5,454.6 218.5,454.1 219.5,453.6 220.5,453.0 221.5,452.5 222.5,452.0 223.5,451.5 224.5,451.0 225.5,450.5 226.5,449.9 227.5,449.4 228.5,448.9 229.5,448.4 230.5,447.9 231.5,447.3 232.5,446.8 233.5,446.3 234.5,445.8 235.5,445.2 236.5,444.7 237.5,444.2 238.5,443.6 239.5,443.1 240.5,442.6 241.5,442.0 242.5,441.5 243.5,440.9 244.5,440.4 245.5,439.8 246.5,439.3 247.5,438.7 248.5,438.2 249.5,437.6 250.5,437.0 251.5,436.4 252.5,435.9 253.5,435.3 254.5,434.7 255.5,434.1 256.5,433.5 257.5,432.8 258.5,432.2 259.5,431.6 260.5,430.9 261.5,430.3 262.5,429.6 263.5,428.9 264.5,428.3 265.5,427.5 266.5,426.8 267.5,426.1 268.5,425.3 269.5,424.5 270.5,423.7 271.5,422.9 272.5,422.0 273.5,421.1 274.5,420.2 275.5,419.2 276.5,418.2 277.5,417.2 278.5,416.1 279.5,414.9 280.5,413.7 281.5,412.4 282.5,411.1 283.5,409.8 284.5,408.4 285.5,407.1 286.5,405.9 287.5,405.0 288.5,404.4 289.5,404.2 290.5,404.5 291.5,405.3 292.5,406.3 293.5,407.5 294.5,408.9 295.5,410.2 296.5,411.6 297.5,412.9 298.5,414.1 299.5,415.3 300.5,416.5 301.5,417.6 302.5,418.6 303.5,419.7 304.5,420.6 305.5,421.6 306.5,422.4 307.5,423.3 308.5,424.2 309.5,425.0 310.5,425.8 311.5,426.5 312.5,427.3 313.5,428.0 314.5,428.7 315.5,429.4 316.5,430.1 317.5,430.8 318.5,431.5 319.5,432.1 320.5,432.8 321.5,433.4 322.5,434.0 323.5,434.6 324.5,435.3 325.5,435.9 326.5,436.5 327.5,437.1 328.5,437.7 329.5,438.2 330.5,438.8 331.5,439.4 332.5,440.0 333.5,440.6 334.5,441.1 335.5,441.7 336.5,442.3 337.5,442.8 338.5,443.4 339.5,443.9 340.5,444.5 341.5,445.1 342.5,445.6 343.5,446.2 344.5,446.7 345.5,447.3 346.5,447.8 347.5,448.4 348.5,448.9 349.5,449.5 350.5,450.0 351.5,450.6 352.5,451.1" fill="none" stroke="#FF0000" stroke-width="2.2" stroke-linecap="round" stroke-linejoin="round"/>
<path d="M120.5,512.7 121.5,511.9 122.5,511.5 123.5,511.0 124.5,510.6 125.5,510.1 126.5,509.6 127.5,509.2 128.5,508.7 129.5,508.3 130.5,507.8 131.5,507.3 132.5,506.8 133.5,506.4 134.5,505.9 135.5,505.4 136.5,505.0 137.5,504.5 138.5,504.0 139.5,503.5 140.5,503.0 141.5,502.6 142.5,502.1 143.5,501.6 144.5,501.1 145.5,500.6 146.5,500.1 147.5,499.6 148.5,499.2 149.5,498.7 150.5,498.2 151.5,497.7 152.5,497.2 153.5,496.7 154.5,496.2 155.5,495.7 156.5,495.2 157.5,494.7 158.5,494.2 159.5,493.7 160.5,493.2 161.5,492.7 162.5,492.2 163.5,491.7 164.5,491.2 165.5,490.7 166.5,490.2 167.5,489.7 168.5,489.2 169.5,488.7 170.5,488.2 171.5,487.6 172.5,487.1 173.5,486.6 174.5,486.1 175.5,485.6 176.5,485.1 177.5,484.6 178.5,484.1 179.5,483.6 180.5,483.1 181.5,482.5 182.5,482.0 183.5,481.5 184.5,481.0 185.5,480.5 186.5,480.0 187.5,479.5 188.5,478.9 189.5,478.4 190.5,477.9 191.5,477.4 192.5,476.9 193.5,476.4 194.5,475.9 195.5,475.3 196.5,474.8 197.5,474.3 198.5,473.8 199.5,473.3 200.5,472.8 201.5,472.3 202.5,471.7 203.5,471.2 204.5,470.7 205.5,470.2 206.5,469.7 207.5,469.2 208.5,468.7 209.5,468.2 210.5,467.6 211.5,467.1 212.5,466.6 213.5,466.1 214.5,465.6 215.5,465.1 216.5,464.6 217.5,464.1 218.5,463.5 219.5,463.0 220.5,462.5 221.5,462.0 222.5,461.5 223.5,461.0 224.5,460.5 225.5,460.0 226.5,459.5 227.5,459.0 228.5,458.5 229.5,458.0 230.5,457.5 231.5,457.0 232.5,456.5 233.5,455.9 234.5,455.4 235.5,454.9 236.5,454.4 237.5,453.9 238.5,453.4 239.5,452.9 240.5,452.4 241.5,451.9 242.5,451.4 243.5,450.9 244.5,450.4 245.5,449.9 246.5,449.4 247.5,448.9 248.5,448.4 249.5,447.9 250.5,447.4 251.5,446.9 252.5,446.4 253.5,445.9 254.5,445.4 255.5,444.9 256.5,444.4 257.5,443.9 258.5,443.4 259.5,442.8 260.5,442.3 261.5,441.8 262.5,441.3 263.5,440.8 264.5,440.3 265.5,439.7 266.5,439.2 267.5,438.7 268.5,438.1 269.5,437.6 270.5,437.0 271.5,436.4 272.5,435.9 273.5,435.3 274.5,434.7 275.5,434.1 276.5,433.5 277.5,432.8 278.5,432.2 279.5,431.5 280.5,430.8 281.5,430.1 282.5,429.4 283.5,428.6 284.5,427.9 285.5,427.1 286.5,426.2 287.5,425.4 288.5,424.5 289.5,423.6 290.5,422.6 291.5,421.6 292.5,420.7 293.5,419.7 294.5,418.7 295.5,417.7 296.5,416.7 297.5,415.9 298.5,415.1 299.5,414.6 300.5,414.2 301.5,414.0 302.5,414.0 303.5,414.3 304.5,414.7 305.5,415.3 306.5,416.0 307.5,416.8 308.5,417.7 309.5,418.5 310.5,419.4 311.5,420.3 312.5,421.2 313.5,422.1 314.5,423.0 315.5,423.9 316.5,424.8 317.5,425.6 318.5,426.4 319.5,427.2 320.5,428.0 321.5,428.8 322.5,429.6 323.5,430.4 324.5,431.2 325.5,431.9 326.5,432.7 327.5,433.4 328.5,434.1 329.5,434.8 330.5,435.6 331.5,436.3 332.5,437.0 333.5,437.7 334.5,438.4 335.5,439.1 336.5,439.7 337.5,440.4 338.5,441.1 339.5,441.8 340.5,442.4 341.5,443.1 342.5,443.7 343.5,444.4 344.5,445.0 345.5,445.7 346.5,446.3 347.5,446.9 348.5,447.6 349.5,448.2 350.5,448.8 351.5,449.4 352.5,450.0" fill="none" stroke="#84CC4A" stroke-width="2.2" stroke-linecap="round" stroke-linejoin="round"/>
<path d="M120.5,523.6 121.5,523.2 122.5,522.7 123.5,522.2 124.5,521.7 125.5,521.2 126.5,520.6 127.5,520.1 128.5,519.6 129.5,519.1 130.5,518.6 131.5,518.1 132.5,517.5 133.5,517.0 134.5,516.5 135.5,516.0 136.5,515.5 137.5,515.0 138.5,514.5 139.5,514.0 140.5,513.4 141.5,512.9 142.5,512.4 143.5,511.9 144.5,511.4 145.5,510.9 146.5,510.4 147.5,509.9 148.5,509.4 149.5,508.9 150.5,508.4 151.5,507.9 152.5,507.4 153.5,506.8 154.5,506.3 155.5,505.8 156.5,505.3 157.5,504.8 158.5,504.3 159.5,503.8 160.5,503.3 161.5,502.8 162.5,502.3 163.5,501.8 164.5,501.3 165.5,500.8 166.5,500.3 167.5,499.8 168.5,499.3 169.5,498.8 170.5,498.3 171.5,497.8 172.5,497.3 173.5,496.8 174.5,496.3 175.5,495.8 176.5,495.3 177.5,494.8 178.5,494.3 179.5,493.8 180.5,493.3 181.5,492.8 182.5,492.3 183.5,491.8 184.5,491.3 185.5,490.8 186.5,490.3 187.5,489.8 188.5,489.3 189.5,488.9 190.5,488.4 191.5,487.9 192.5,487.4 193.5,486.9 194.5,486.4 195.5,485.9 196.5,485.4 197.5,484.9 198.5,484.4 199.5,483.9 200.5,483.4 201.5,482.9 202.5,482.4 203.5,481.9 204.5,481.4 205.5,480.9 206.5,480.4 207.5,479.9 208.5,479.4 209.5,478.9 210.5,478.4 211.5,478.0 212.5,477.5 213.5,477.0 214.5,476.5 215.5,476.0 216.5,475.5 217.5,475.0 218.5,474.5 219.5,474.0 220.5,473.5 221.5,473.0 222.5,472.5 223.5,472.0 224.5,471.5 225.5,471.0 226.5,470.5 227.5,470.0 228.5,469.5 229.5,469.0 230.5,468.5 231.5,468.0 232.5,467.5 233.5,467.0 234.5,466.5 235.5,466.0 236.5,465.5 237.5,465.0 238.5,464.5 239.5,464.0 240.5,463.5 241.5,463.0 242.5,462.5 243.5,462.0 244.5,461.5 245.5,461.0 246.5,460.5 247.5,460.0 248.5,459.5 249.5,458.9 250.5,458.4 251.5,457.9 252.5,457.4 253.5,456.9 254.5,456.4 255.5,455.9 256.5,455.3 257.5,454.8 258.5,454.3 259.5,453.8 260.5,453.2 261.5,452.7 262.5,452.2 263.5,451.6 264.5,451.1 265.5,450.6 266.5,450.0 267.5,449.5 268.5,448.9 269.5,448.4 270.5,447.8 271.5,447.3 272.5,446.7 273.5,446.1 274.5,445.5 275.5,445.0 276.5,444.4 277.5,443.8 278.5,443.2 279.5,442.6 280.5,442.0 281.5,441.4 282.5,440.7 283.5,440.1 284.5,439.4 285.5,438.8 286.5,438.1 287.5,437.5 288.5,436.8 289.5,436.1 290.5,435.4 291.5,434.6 292.5,433.9 293.5,433.2 294.5,432.4 295.5,431.7 296.5,430.9 297.5,430.1 298.5,429.3 299.5,428.6 300.5,427.8 301.5,427.0 302.5,426.3 303.5,425.7 304.5,425.1 305.5,424.6 306.5,424.1 307.5,423.9 308.5,423.7 309.5,423.7 310.5,423.8 311.5,424.1 312.5,424.5 313.5,425.0 314.5,425.6 315.5,426.3 316.5,427.0 317.5,427.7 318.5,428.5 319.5,429.3 320.5,430.1 321.5,430.9 322.5,431.7 323.5,432.4 324.5,433.2 325.5,434.0 326.5,434.7 327.5,435.5 328.5,436.2 329.5,436.9 330.5,437.6 331.5,438.3 332.5,439.0 333.5,439.7 334.5,440.3 335.5,441.0 336.5,441.6 337.5,442.3 338.5,442.9 339.5,443.5 340.5,444.2 341.5,444.8 342.5,445.4 343.5,446.0 344.5,446.6 345.5,447.2 346.5,447.8 347.5,448.4 348.5,449.0 349.5,449.6 350.5,450.2 351.5,450.8 352.5,451.4" fill="none" stroke="#7030A0" stroke-width="2.2" stroke-linecap="round" stroke-linejoin="round"/>
<rect x="241.40" y="395.30" width="28.00" height="14.60" fill="#fff"/>
<text x="255.40" y="405.30" font-size="8.3" text-anchor="middle" textLength="18.00" lengthAdjust="spacingAndGlyphs" stroke="#000" stroke-width="0.15">NR56</text>
<rect x="291.00" y="385.50" width="28.30" height="14.60" fill="#fff"/>
<text x="305.15" y="395.50" font-size="8.3" text-anchor="middle" textLength="18.30" lengthAdjust="spacingAndGlyphs" stroke="#000" stroke-width="0.15">NR33</text>
<rect x="312.00" y="401.10" width="28.20" height="14.60" fill="#fff"/>
<text x="326.10" y="411.10" font-size="8.3" text-anchor="middle" textLength="18.20" lengthAdjust="spacingAndGlyphs" stroke="#000" stroke-width="0.15">NR16</text>
<rect x="291.80" y="438.80" width="29.40" height="14.60" fill="#fff"/>
<text x="306.50" y="448.80" font-size="8.3" text-anchor="middle" textLength="19.40" lengthAdjust="spacingAndGlyphs" stroke="#000" stroke-width="0.15">N77N</text>
<rect x="402.30" y="355.40" width="302.00" height="227.20" fill="#fff"/>
<line x1="400.70" y1="354.90" x2="400.70" y2="583.10" stroke="#ececec" stroke-width="1"/>
<line x1="402.30" y1="354.65" x2="402.30" y2="583.35" stroke="#a0a0a0" stroke-width="1.5"/>
<line x1="403.05" y1="355.40" x2="705.05" y2="355.40" stroke="#b8b8b8" stroke-width="1.5"/>
<line x1="704.30" y1="356.15" x2="704.30" y2="583.35" stroke="#c8c8c8" stroke-width="1.5"/>
<line x1="403.05" y1="582.60" x2="703.55" y2="582.60" stroke="#dcdcdc" stroke-width="1.5"/>
<text x="561.40" y="375.60" font-size="14.3" font-weight="bold" text-anchor="middle" textLength="125.60" lengthAdjust="spacingAndGlyphs" xml:space="preserve">MCL1608N  Series</text>
<g stroke-width="1" shape-rendering="crispEdges"><line x1="445.00" y1="379.60" x2="445.00" y2="548.20" stroke="#cbcbcb"/><line x1="465.14" y1="379.60" x2="465.14" y2="548.20" stroke="#cbcbcb"/><line x1="476.92" y1="379.60" x2="476.92" y2="548.20" stroke="#cbcbcb"/><line x1="485.27" y1="379.60" x2="485.27" y2="548.20" stroke="#cbcbcb"/><line x1="491.76" y1="379.60" x2="491.76" y2="548.20" stroke="#cbcbcb"/><line x1="497.05" y1="379.60" x2="497.05" y2="548.20" stroke="#cbcbcb"/><line x1="501.53" y1="379.60" x2="501.53" y2="548.20" stroke="#cbcbcb"/><line x1="505.41" y1="379.60" x2="505.41" y2="548.20" stroke="#cbcbcb"/><line x1="508.83" y1="379.60" x2="508.83" y2="548.20" stroke="#cbcbcb"/><line x1="511.89" y1="379.60" x2="511.89" y2="548.20" stroke="#8c8c8c"/><line x1="532.03" y1="379.60" x2="532.03" y2="548.20" stroke="#cbcbcb"/><line x1="543.81" y1="379.60" x2="543.81" y2="548.20" stroke="#cbcbcb"/><line x1="552.17" y1="379.60" x2="552.17" y2="548.20" stroke="#cbcbcb"/><line x1="558.65" y1="379.60" x2="558.65" y2="548.20" stroke="#cbcbcb"/><line x1="563.95" y1="379.60" x2="563.95" y2="548.20" stroke="#cbcbcb"/><line x1="568.43" y1="379.60" x2="568.43" y2="548.20" stroke="#cbcbcb"/><line x1="572.31" y1="379.60" x2="572.31" y2="548.20" stroke="#cbcbcb"/><line x1="575.73" y1="379.60" x2="575.73" y2="548.20" stroke="#cbcbcb"/><line x1="578.79" y1="379.60" x2="578.79" y2="548.20" stroke="#8c8c8c"/><line x1="598.93" y1="379.60" x2="598.93" y2="548.20" stroke="#cbcbcb"/><line x1="610.71" y1="379.60" x2="610.71" y2="548.20" stroke="#cbcbcb"/><line x1="619.06" y1="379.60" x2="619.06" y2="548.20" stroke="#cbcbcb"/><line x1="625.55" y1="379.60" x2="625.55" y2="548.20" stroke="#cbcbcb"/><line x1="630.84" y1="379.60" x2="630.84" y2="548.20" stroke="#cbcbcb"/><line x1="635.32" y1="379.60" x2="635.32" y2="548.20" stroke="#cbcbcb"/><line x1="639.20" y1="379.60" x2="639.20" y2="548.20" stroke="#cbcbcb"/><line x1="642.62" y1="379.60" x2="642.62" y2="548.20" stroke="#cbcbcb"/><line x1="645.68" y1="379.60" x2="645.68" y2="548.20" stroke="#8c8c8c"/><line x1="665.82" y1="379.60" x2="665.82" y2="548.20" stroke="#cbcbcb"/><line x1="677.60" y1="379.60" x2="677.60" y2="548.20" stroke="#cbcbcb"/><line x1="445.00" y1="548.20" x2="677.60" y2="548.20" stroke="#cbcbcb"/><line x1="445.00" y1="538.05" x2="677.60" y2="538.05" stroke="#cbcbcb"/><line x1="445.00" y1="532.11" x2="677.60" y2="532.11" stroke="#cbcbcb"/><line x1="445.00" y1="527.90" x2="677.60" y2="527.90" stroke="#cbcbcb"/><line x1="445.00" y1="524.63" x2="677.60" y2="524.63" stroke="#cbcbcb"/><line x1="445.00" y1="521.96" x2="677.60" y2="521.96" stroke="#cbcbcb"/><line x1="445.00" y1="519.70" x2="677.60" y2="519.70" stroke="#cbcbcb"/><line x1="445.00" y1="517.75" x2="677.60" y2="517.75" stroke="#cbcbcb"/><line x1="445.00" y1="516.02" x2="677.60" y2="516.02" stroke="#cbcbcb"/><line x1="445.00" y1="514.48" x2="677.60" y2="514.48" stroke="#8c8c8c"/><line x1="445.00" y1="504.33" x2="677.60" y2="504.33" stroke="#cbcbcb"/><line x1="445.00" y1="498.39" x2="677.60" y2="498.39" stroke="#cbcbcb"/><line x1="445.00" y1="494.18" x2="677.60" y2="494.18" stroke="#cbcbcb"/><line x1="445.00" y1="490.91" x2="677.60" y2="490.91" stroke="#cbcbcb"/><line x1="445.00" y1="488.24" x2="677.60" y2="488.24" stroke="#cbcbcb"/><line x1="445.00" y1="485.98" x2="677.60" y2="485.98" stroke="#cbcbcb"/><line x1="445.00" y1="484.03" x2="677.60" y2="484.03" stroke="#cbcbcb"/><line x1="445.00" y1="482.30" x2="677.60" y2="482.30" stroke="#cbcbcb"/><line x1="445.00" y1="480.76" x2="677.60" y2="480.76" stroke="#8c8c8c"/><line x1="445.00" y1="470.61" x2="677.60" y2="470.61" stroke="#cbcbcb"/><line x1="445.00" y1="464.67" x2="677.60" y2="464.67" stroke="#cbcbcb"/><line x1="445.00" y1="460.46" x2="677.60" y2="460.46" stroke="#cbcbcb"/><line x1="445.00" y1="457.19" x2="677.60" y2="457.19" stroke="#cbcbcb"/><line x1="445.00" y1="454.52" x2="677.60" y2="454.52" stroke="#cbcbcb"/><line x1="445.00" y1="452.26" x2="677.60" y2="452.26" stroke="#cbcbcb"/><line x1="445.00" y1="450.31" x2="677.60" y2="450.31" stroke="#cbcbcb"/><line x1="445.00" y1="448.58" x2="677.60" y2="448.58" stroke="#cbcbcb"/><line x1="445.00" y1="447.04" x2="677.60" y2="447.04" stroke="#cbcbcb"/><line x1="445.00" y1="436.89" x2="677.60" y2="436.89" stroke="#cbcbcb"/><line x1="445.00" y1="430.95" x2="677.60" y2="430.95" stroke="#cbcbcb"/><line x1="445.00" y1="426.74" x2="677.60" y2="426.74" stroke="#cbcbcb"/><line x1="445.00" y1="423.47" x2="677.60" y2="423.47" stroke="#cbcbcb"/><line x1="445.00" y1="420.80" x2="677.60" y2="420.80" stroke="#cbcbcb"/><line x1="445.00" y1="418.54" x2="677.60" y2="418.54" stroke="#cbcbcb"/><line x1="445.00" y1="416.59" x2="677.60" y2="416.59" stroke="#cbcbcb"/><line x1="445.00" y1="414.86" x2="677.60" y2="414.86" stroke="#cbcbcb"/><line x1="445.00" y1="413.32" x2="677.60" y2="413.32" stroke="#cbcbcb"/><line x1="445.00" y1="403.17" x2="677.60" y2="403.17" stroke="#cbcbcb"/><line x1="445.00" y1="397.23" x2="677.60" y2="397.23" stroke="#cbcbcb"/><line x1="445.00" y1="393.02" x2="677.60" y2="393.02" stroke="#cbcbcb"/><line x1="445.00" y1="389.75" x2="677.60" y2="389.75" stroke="#cbcbcb"/><line x1="445.00" y1="387.08" x2="677.60" y2="387.08" stroke="#cbcbcb"/><line x1="445.00" y1="384.82" x2="677.60" y2="384.82" stroke="#cbcbcb"/><line x1="445.00" y1="382.87" x2="677.60" y2="382.87" stroke="#cbcbcb"/><line x1="445.00" y1="381.14" x2="677.60" y2="381.14" stroke="#cbcbcb"/><line x1="445.00" y1="379.60" x2="677.60" y2="379.60" stroke="#cbcbcb"/></g>
<text x="434.60" y="551.60" font-size="9.8" text-anchor="end" textLength="4.70" lengthAdjust="spacingAndGlyphs">0</text>
<text x="434.60" y="517.88" font-size="9.8" text-anchor="end" textLength="4.70" lengthAdjust="spacingAndGlyphs">1</text>
<text x="434.60" y="484.16" font-size="9.8" text-anchor="end" textLength="9.40" lengthAdjust="spacingAndGlyphs">10</text>
<text x="434.60" y="450.44" font-size="9.8" text-anchor="end" textLength="14.10" lengthAdjust="spacingAndGlyphs">100</text>
<text x="434.60" y="416.72" font-size="9.8" text-anchor="end" textLength="18.80" lengthAdjust="spacingAndGlyphs">1000</text>
<text x="434.60" y="383.00" font-size="9.8" text-anchor="end" textLength="24.40" lengthAdjust="spacingAndGlyphs">10000</text>
<text x="445.00" y="565.00" font-size="9.8" text-anchor="middle" textLength="4.70" lengthAdjust="spacingAndGlyphs">1</text>
<text x="511.89" y="565.00" font-size="9.8" text-anchor="middle" textLength="9.40" lengthAdjust="spacingAndGlyphs">10</text>
<text x="578.79" y="565.00" font-size="9.8" text-anchor="middle" textLength="14.10" lengthAdjust="spacingAndGlyphs">100</text>
<text x="645.68" y="565.00" font-size="9.8" text-anchor="middle" textLength="18.80" lengthAdjust="spacingAndGlyphs">1000</text>
<text x="419.60" y="469.00" font-size="9.3" font-weight="bold" text-anchor="middle" textLength="60.70" lengthAdjust="spacingAndGlyphs" transform="rotate(-90 419.60 469.00)" xml:space="preserve">Impedance (Ω)</text>
<text x="571.50" y="578.70" font-size="9.3" font-weight="bold" text-anchor="middle" textLength="61.60" lengthAdjust="spacingAndGlyphs" xml:space="preserve">Frequency/MHz</text>
<path d="M445.5,494.9 446.5,494.3 447.5,493.8 448.5,493.3 449.5,492.8 450.5,492.3 451.5,491.9 452.5,491.4 453.5,490.9 454.5,490.4 455.5,489.9 456.5,489.4 457.5,488.9 458.5,488.4 459.5,487.9 460.5,487.4 461.5,486.9 462.5,486.4 463.5,485.9 464.5,485.4 465.5,484.9 466.5,484.4 467.5,483.9 468.5,483.4 469.5,483.0 470.5,482.5 471.5,482.0 472.5,481.5 473.5,481.0 474.5,480.5 475.5,480.0 476.5,479.5 477.5,479.0 478.5,478.5 479.5,478.0 480.5,477.5 481.5,477.0 482.5,476.5 483.5,476.0 484.5,475.4 485.5,474.9 486.5,474.4 487.5,473.9 488.5,473.4 489.5,472.9 490.5,472.4 491.5,471.9 492.5,471.4 493.5,470.9 494.5,470.4 495.5,469.9 496.5,469.4 497.5,468.9 498.5,468.4 499.5,467.9 500.5,467.4 501.5,466.9 502.5,466.4 503.5,465.9 504.5,465.4 505.5,464.9 506.5,464.4 507.5,463.8 508.5,463.3 509.5,462.8 510.5,462.3 511.5,461.8 512.5,461.3 513.5,460.8 514.5,460.3 515.5,459.8 516.5,459.3 517.5,458.8 518.5,458.3 519.5,457.8 520.5,457.2 521.5,456.7 522.5,456.2 523.5,455.7 524.5,455.2 525.5,454.7 526.5,454.2 527.5,453.7 528.5,453.2 529.5,452.6 530.5,452.1 531.5,451.6 532.5,451.1 533.5,450.6 534.5,450.1 535.5,449.6 536.5,449.0 537.5,448.5 538.5,448.0 539.5,447.5 540.5,447.0 541.5,446.4 542.5,445.9 543.5,445.4 544.5,444.9 545.5,444.4 546.5,443.8 547.5,443.3 548.5,442.8 549.5,442.2 550.5,441.7 551.5,441.2 552.5,440.6 553.5,440.1 554.5,439.5 555.5,439.0 556.5,438.4 557.5,437.9 558.5,437.3 559.5,436.8 560.5,436.2 561.5,435.6 562.5,435.1 563.5,434.5 564.5,433.9 565.5,433.3 566.5,432.7 567.5,432.1 568.5,431.5 569.5,430.8 570.5,430.2 571.5,429.6 572.5,428.9 573.5,428.2 574.5,427.5 575.5,426.8 576.5,426.1 577.5,425.4 578.5,424.6 579.5,423.8 580.5,423.0 581.5,422.2 582.5,421.3 583.5,420.4 584.5,419.4 585.5,418.4 586.5,417.4 587.5,416.3 588.5,415.1 589.5,413.8 590.5,412.5 591.5,411.0 592.5,409.4 593.5,407.7 594.5,405.8 595.5,403.7 596.5,401.4 597.5,399.1 598.5,396.9 599.5,395.3 600.5,395.0 601.5,396.2 602.5,398.3 603.5,400.6 604.5,403.0 605.5,405.2 606.5,407.2 607.5,409.0 608.5,410.7 609.5,412.3 610.5,413.7 611.5,415.0 612.5,416.3 613.5,417.5 614.5,418.6 615.5,419.6 616.5,420.6 617.5,421.6 618.5,422.5 619.5,423.4 620.5,424.2 621.5,425.1 622.5,425.9 623.5,426.6 624.5,427.4 625.5,428.1 626.5,428.8 627.5,429.5 628.5,430.2 629.5,430.9 630.5,431.5 631.5,432.2 632.5,432.5 633.5,433.1 634.5,433.7 635.5,434.3 636.5,434.9 637.5,435.5 638.5,436.1 639.5,436.7 640.5,437.3 641.5,437.8 642.5,438.4 643.5,438.9 644.5,439.5 645.5,440.1 646.5,440.6 647.5,441.1 648.5,441.7 649.5,442.2 650.5,442.8 651.5,443.3 652.5,443.8 653.5,444.4 654.5,444.9 655.5,445.4 656.5,446.0 657.5,446.5 658.5,447.0 659.5,447.5 660.5,448.0 661.5,448.6 662.5,449.1 663.5,449.6 664.5,450.1 665.5,450.6 666.5,451.2 667.5,451.7 668.5,452.2 669.5,452.7 670.5,453.2 671.5,453.7 672.5,454.2 673.5,454.8 675.0,457.4 677.7,457.6" fill="none" stroke="#4677BA" stroke-width="2.2" stroke-linecap="round" stroke-linejoin="round"/>
<path d="M445.5,501.9 446.5,501.1 447.5,500.6 448.5,500.1 449.5,499.7 450.5,499.2 451.5,498.7 452.5,498.2 453.5,497.7 454.5,497.2 455.5,496.8 456.5,496.3 457.5,495.8 458.5,495.3 459.5,494.8 460.5,494.3 461.5,493.8 462.5,493.3 463.5,492.9 464.5,492.4 465.5,491.9 466.5,491.4 467.5,490.9 468.5,490.4 469.5,489.9 470.5,489.4 471.5,488.9 472.5,488.4 473.5,487.9 474.5,487.4 475.5,486.9 476.5,486.4 477.5,486.0 478.5,485.5 479.5,485.0 480.5,484.5 481.5,484.0 482.5,483.5 483.5,483.0 484.5,482.5 485.5,482.0 486.5,481.5 487.5,481.0 488.5,480.5 489.5,480.0 490.5,479.5 491.5,479.0 492.5,478.5 493.5,478.0 494.5,477.5 495.5,477.0 496.5,476.4 497.5,475.9 498.5,475.4 499.5,474.9 500.5,474.4 501.5,473.9 502.5,473.4 503.5,472.9 504.5,472.4 505.5,471.9 506.5,471.4 507.5,470.9 508.5,470.4 509.5,469.9 510.5,469.4 511.5,468.9 512.5,468.4 513.5,467.8 514.5,467.3 515.5,466.8 516.5,466.3 517.5,465.8 518.5,465.3 519.5,464.8 520.5,464.3 521.5,463.8 522.5,463.3 523.5,462.7 524.5,462.2 525.5,461.7 526.5,461.2 527.5,460.7 528.5,460.2 529.5,459.7 530.5,459.1 531.5,458.6 532.5,458.1 533.5,457.6 534.5,457.1 535.5,456.6 536.5,456.1 537.5,455.5 538.5,455.0 539.5,454.5 540.5,454.0 541.5,453.5 542.5,452.9 543.5,452.4 544.5,451.9 545.5,451.4 546.5,450.8 547.5,450.3 548.5,449.8 549.5,449.3 550.5,448.7 551.5,448.2 552.5,447.7 553.5,447.1 554.5,446.6 555.5,446.1 556.5,445.5 557.5,445.0 558.5,444.4 559.5,443.9 560.5,443.3 561.5,442.8 562.5,442.2 563.5,441.7 564.5,441.1 565.5,440.6 566.5,440.0 567.5,439.4 568.5,438.8 569.5,438.2 570.5,437.7 571.5,437.1 572.5,436.5 573.5,435.8 574.5,435.2 575.5,434.6 576.5,434.0 577.5,433.3 578.5,432.6 579.5,432.0 580.5,431.3 581.5,430.6 582.5,429.9 583.5,429.1 584.5,428.4 585.5,427.6 586.5,426.8 587.5,426.0 588.5,425.1 589.5,424.2 590.5,423.3 591.5,422.3 592.5,421.3 593.5,420.2 594.5,419.1 595.5,417.9 596.5,416.6 597.5,415.3 598.5,413.8 599.5,412.2 600.5,410.6 601.5,408.8 602.5,406.9 603.5,405.1 604.5,403.3 605.5,402.1 606.5,401.6 607.5,402.0 608.5,403.2 609.5,404.9 610.5,406.8 611.5,408.7 612.5,410.5 613.5,412.2 614.5,413.8 615.5,415.3 616.5,416.7 617.5,418.0 618.5,419.2 619.5,420.4 620.5,421.5 621.5,422.5 622.5,423.5 623.5,424.5 624.5,425.4 625.5,426.3 626.5,427.1 627.5,428.0 628.5,428.8 629.5,429.5 630.5,430.3 631.5,431.0 632.5,431.8 633.5,432.5 634.5,433.2 635.5,433.9 636.5,434.5 637.5,435.2 638.5,435.9 639.5,436.5 640.5,437.2 641.5,437.8 642.5,438.4 643.5,439.0 644.5,439.6 645.5,440.3 646.5,440.9 647.5,441.5 648.5,442.1 649.5,442.7 650.5,443.2 651.5,443.8 652.5,444.4 653.5,445.0 654.5,445.6 655.5,446.2 656.5,446.7 657.5,447.3 658.5,447.9 659.5,448.5 660.5,449.0 661.5,449.6 662.5,450.2 663.5,450.8 664.5,451.3 665.5,451.9 666.5,452.5 667.5,453.0 668.5,453.6 669.5,454.2 670.5,454.7 671.5,455.3 672.5,455.9 673.5,457.0 675.0,459.4 677.7,459.6" fill="none" stroke="#FF0000" stroke-width="2.2" stroke-linecap="round" stroke-linejoin="round"/>
<path d="M445.5,513.8 446.5,513.4 447.5,512.8 448.5,512.3 449.5,511.7 450.5,511.2 451.5,510.7 452.5,510.1 453.5,509.6 454.5,509.0 455.5,508.5 456.5,507.9 457.5,507.4 458.5,506.9 459.5,506.3 460.5,505.8 461.5,505.3 462.5,504.7 463.5,504.2 464.5,503.7 465.5,503.1 466.5,502.6 467.5,502.1 468.5,501.6 469.5,501.0 470.5,500.5 471.5,500.0 472.5,499.5 473.5,499.0 474.5,498.4 475.5,497.9 476.5,497.4 477.5,496.9 478.5,496.4 479.5,495.8 480.5,495.3 481.5,494.8 482.5,494.3 483.5,493.8 484.5,493.3 485.5,492.8 486.5,492.2 487.5,491.7 488.5,491.2 489.5,490.7 490.5,490.2 491.5,489.7 492.5,489.2 493.5,488.7 494.5,488.2 495.5,487.7 496.5,487.2 497.5,486.7 498.5,486.2 499.5,485.7 500.5,485.2 501.5,484.7 502.5,484.2 503.5,483.7 504.5,483.2 505.5,482.7 506.5,482.2 507.5,481.7 508.5,481.2 509.5,480.7 510.5,480.2 511.5,479.7 512.5,479.2 513.5,478.7 514.5,478.2 515.5,477.7 516.5,477.2 517.5,476.7 518.5,476.2 519.5,475.7 520.5,475.2 521.5,474.7 522.5,474.2 523.5,473.7 524.5,473.2 525.5,472.7 526.5,472.2 527.5,471.7 528.5,471.2 529.5,470.7 530.5,470.3 531.5,469.8 532.5,469.3 533.5,468.8 534.5,468.3 535.5,467.8 536.5,467.3 537.5,466.8 538.5,466.3 539.5,465.8 540.5,465.3 541.5,464.8 542.5,464.3 543.5,463.8 544.5,463.3 545.5,462.8 546.5,462.3 547.5,461.8 548.5,461.3 549.5,460.8 550.5,460.3 551.5,459.8 552.5,459.3 553.5,458.8 554.5,458.3 555.5,457.8 556.5,457.3 557.5,456.8 558.5,456.3 559.5,455.8 560.5,455.3 561.5,454.7 562.5,454.2 563.5,453.7 564.5,453.2 565.5,452.7 566.5,452.1 567.5,451.6 568.5,451.1 569.5,450.6 570.5,450.0 571.5,449.5 572.5,448.9 573.5,448.4 574.5,447.8 575.5,447.3 576.5,446.7 577.5,446.2 578.5,445.6 579.5,445.0 580.5,444.5 581.5,443.9 582.5,443.3 583.5,442.7 584.5,442.1 585.5,441.5 586.5,440.8 587.5,440.2 588.5,439.6 589.5,438.9 590.5,438.3 591.5,437.6 592.5,436.9 593.5,436.2 594.5,435.4 595.5,434.7 596.5,433.9 597.5,433.1 598.5,432.3 599.5,431.5 600.5,430.6 601.5,429.7 602.5,428.8 603.5,427.8 604.5,426.8 605.5,425.7 606.5,424.6 607.5,423.5 608.5,422.2 609.5,421.0 610.5,419.7 611.5,418.4 612.5,417.1 613.5,415.8 614.5,414.6 615.5,413.7 616.5,413.1 617.5,413.0 618.5,413.2 619.5,413.9 620.5,414.9 621.5,416.1 622.5,417.4 623.5,418.7 624.5,420.0 625.5,421.2 626.5,422.5 627.5,423.7 628.5,424.8 629.5,425.9 630.5,426.9 631.5,428.0 632.5,428.9 633.5,429.9 634.5,430.8 635.5,431.6 636.5,432.5 637.5,433.3 638.5,434.1 639.5,434.9 640.5,435.7 641.5,436.4 642.5,437.2 643.5,437.9 644.5,438.6 645.5,439.3 646.5,440.0 647.5,440.7 648.5,441.4 649.5,442.1 650.5,442.8 651.5,443.4 652.5,444.1 653.5,444.8 654.5,445.4 655.5,446.1 656.5,446.8 657.5,447.4 658.5,448.1 659.5,448.7 660.5,449.4 661.5,450.1 662.5,450.7 663.5,451.4 664.5,452.1 665.5,452.7 666.5,453.4 667.5,454.1 668.5,454.7 669.5,455.4 670.5,456.1 671.5,456.8 672.5,457.5 673.5,458.4 675.0,460.6 677.7,460.8" fill="none" stroke="#84CC4A" stroke-width="2.2" stroke-linecap="round" stroke-linejoin="round"/>
<path d="M445.5,523.4 446.5,522.6 447.5,522.2 448.5,521.7 449.5,521.2 450.5,520.7 451.5,520.3 452.5,519.8 453.5,519.3 454.5,518.8 455.5,518.4 456.5,517.9 457.5,517.4 458.5,516.9 459.5,516.4 460.5,515.9 461.5,515.5 462.5,515.0 463.5,514.5 464.5,514.0 465.5,513.5 466.5,513.0 467.5,512.5 468.5,512.0 469.5,511.5 470.5,511.0 471.5,510.5 472.5,510.1 473.5,509.6 474.5,509.1 475.5,508.6 476.5,508.1 477.5,507.6 478.5,507.1 479.5,506.6 480.5,506.1 481.5,505.6 482.5,505.1 483.5,504.6 484.5,504.1 485.5,503.6 486.5,503.1 487.5,502.6 488.5,502.1 489.5,501.5 490.5,501.0 491.5,500.5 492.5,500.0 493.5,499.5 494.5,499.0 495.5,498.5 496.5,498.0 497.5,497.5 498.5,497.0 499.5,496.5 500.5,496.0 501.5,495.5 502.5,495.0 503.5,494.4 504.5,493.9 505.5,493.4 506.5,492.9 507.5,492.4 508.5,491.9 509.5,491.4 510.5,490.9 511.5,490.4 512.5,489.8 513.5,489.3 514.5,488.8 515.5,488.3 516.5,487.8 517.5,487.3 518.5,486.8 519.5,486.3 520.5,485.8 521.5,485.2 522.5,484.7 523.5,484.2 524.5,483.7 525.5,483.2 526.5,482.7 527.5,482.2 528.5,481.7 529.5,481.1 530.5,480.6 531.5,480.1 532.5,479.6 533.5,479.1 534.5,478.6 535.5,478.1 536.5,477.6 537.5,477.0 538.5,476.5 539.5,476.0 540.5,475.5 541.5,475.0 542.5,474.5 543.5,474.0 544.5,473.5 545.5,473.0 546.5,472.4 547.5,471.9 548.5,471.4 549.5,470.9 550.5,470.4 551.5,469.9 552.5,469.4 553.5,468.9 554.5,468.4 555.5,467.9 556.5,467.4 557.5,466.8 558.5,466.3 559.5,465.8 560.5,465.3 561.5,464.8 562.5,464.3 563.5,463.8 564.5,463.3 565.5,462.8 566.5,462.3 567.5,461.8 568.5,461.2 569.5,460.7 570.5,460.2 571.5,459.7 572.5,459.2 573.5,458.7 574.5,458.2 575.5,457.7 576.5,457.1 577.5,456.6 578.5,456.1 579.5,455.6 580.5,455.1 581.5,454.6 582.5,454.0 583.5,453.5 584.5,453.0 585.5,452.5 586.5,451.9 587.5,451.4 588.5,450.9 589.5,450.3 590.5,449.8 591.5,449.2 592.5,448.7 593.5,448.1 594.5,447.5 595.5,447.0 596.5,446.4 597.5,445.8 598.5,445.2 599.5,444.6 600.5,444.0 601.5,443.4 602.5,442.8 603.5,442.1 604.5,441.5 605.5,440.8 606.5,440.1 607.5,439.4 608.5,438.6 609.5,437.9 610.5,437.1 611.5,436.3 612.5,435.4 613.5,434.5 614.5,433.6 615.5,432.7 616.5,431.7 617.5,430.6 618.5,429.6 619.5,428.5 620.5,427.3 621.5,426.2 622.5,425.0 623.5,423.8 624.5,422.8 625.5,421.8 626.5,421.1 627.5,420.6 628.5,420.4 629.5,420.6 630.5,421.0 631.5,421.7 632.5,422.6 633.5,423.6 634.5,424.7 635.5,425.8 636.5,426.9 637.5,427.9 638.5,429.0 639.5,430.1 640.5,431.1 641.5,432.1 642.5,433.1 643.5,434.0 644.5,434.9 645.5,435.8 646.5,436.7 647.5,437.6 648.5,438.5 649.5,439.3 650.5,440.1 651.5,440.9 652.5,441.7 653.5,442.5 654.5,443.3 655.5,444.1 656.5,444.8 657.5,445.6 658.5,446.3 659.5,447.0 660.5,447.7 661.5,448.5 662.5,449.2 663.5,449.8 664.5,450.5 665.5,451.2 666.5,451.9 667.5,452.5 668.5,453.2 669.5,453.8 670.5,454.4 671.5,455.0 672.5,455.6 673.5,456.2 675.0,458.6 677.7,458.8" fill="none" stroke="#7030A0" stroke-width="2.2" stroke-linecap="round" stroke-linejoin="round"/>
<rect x="566.80" y="385.90" width="28.00" height="14.60" fill="#fff"/>
<text x="580.80" y="395.90" font-size="8.3" text-anchor="middle" textLength="18.00" lengthAdjust="spacingAndGlyphs" stroke="#000" stroke-width="0.15">NR56</text>
<rect x="606.90" y="384.00" width="28.10" height="14.60" fill="#fff"/>
<text x="620.95" y="394.00" font-size="8.3" text-anchor="middle" textLength="18.10" lengthAdjust="spacingAndGlyphs" stroke="#000" stroke-width="0.15">NR33</text>
<rect x="625.70" y="400.50" width="27.60" height="14.60" fill="#fff"/>
<text x="639.50" y="410.50" font-size="8.3" text-anchor="middle" textLength="17.60" lengthAdjust="spacingAndGlyphs" stroke="#000" stroke-width="0.15">NR16</text>
<rect x="645.90" y="417.90" width="29.10" height="14.60" fill="#fff"/>
<text x="660.45" y="427.90" font-size="8.3" text-anchor="middle" textLength="19.10" lengthAdjust="spacingAndGlyphs" stroke="#000" stroke-width="0.15">N77N</text>
<rect x="77.30" y="622.70" width="302.30" height="226.70" fill="#fff"/>
<line x1="75.70" y1="622.20" x2="75.70" y2="849.90" stroke="#ececec" stroke-width="1"/>
<line x1="77.30" y1="622.05" x2="77.30" y2="850.05" stroke="#a0a0a0" stroke-width="1.3"/>
<line x1="77.95" y1="622.70" x2="380.25" y2="622.70" stroke="#b8b8b8" stroke-width="1.3"/>
<line x1="379.60" y1="623.35" x2="379.60" y2="850.05" stroke="#cccccc" stroke-width="1.3"/>
<line x1="77.95" y1="849.40" x2="378.95" y2="849.40" stroke="#a0a0a0" stroke-width="1.3"/>
<text x="228.85" y="646.80" font-size="14.3" font-weight="bold" text-anchor="middle" textLength="124.50" lengthAdjust="spacingAndGlyphs" xml:space="preserve">MCL1005N  Series</text>
<g stroke-width="1" shape-rendering="crispEdges"><line x1="114.30" y1="656.60" x2="114.30" y2="814.20" stroke="#cbcbcb"/><line x1="132.75" y1="656.60" x2="132.75" y2="814.20" stroke="#cbcbcb"/><line x1="143.55" y1="656.60" x2="143.55" y2="814.20" stroke="#cbcbcb"/><line x1="151.21" y1="656.60" x2="151.21" y2="814.20" stroke="#cbcbcb"/><line x1="157.15" y1="656.60" x2="157.15" y2="814.20" stroke="#cbcbcb"/><line x1="162.00" y1="656.60" x2="162.00" y2="814.20" stroke="#cbcbcb"/><line x1="166.10" y1="656.60" x2="166.10" y2="814.20" stroke="#cbcbcb"/><line x1="169.66" y1="656.60" x2="169.66" y2="814.20" stroke="#cbcbcb"/><line x1="172.80" y1="656.60" x2="172.80" y2="814.20" stroke="#cbcbcb"/><line x1="175.60" y1="656.60" x2="175.60" y2="814.20" stroke="#8c8c8c"/><line x1="194.05" y1="656.60" x2="194.05" y2="814.20" stroke="#cbcbcb"/><line x1="204.85" y1="656.60" x2="204.85" y2="814.20" stroke="#cbcbcb"/><line x1="212.51" y1="656.60" x2="212.51" y2="814.20" stroke="#cbcbcb"/><line x1="218.45" y1="656.60" x2="218.45" y2="814.20" stroke="#cbcbcb"/><line x1="223.30" y1="656.60" x2="223.30" y2="814.20" stroke="#cbcbcb"/><line x1="227.40" y1="656.60" x2="227.40" y2="814.20" stroke="#cbcbcb"/><line x1="230.96" y1="656.60" x2="230.96" y2="814.20" stroke="#cbcbcb"/><line x1="234.10" y1="656.60" x2="234.10" y2="814.20" stroke="#cbcbcb"/><line x1="236.90" y1="656.60" x2="236.90" y2="814.20" stroke="#8c8c8c"/><line x1="255.35" y1="656.60" x2="255.35" y2="814.20" stroke="#cbcbcb"/><line x1="266.15" y1="656.60" x2="266.15" y2="814.20" stroke="#cbcbcb"/><line x1="273.81" y1="656.60" x2="273.81" y2="814.20" stroke="#cbcbcb"/><line x1="279.75" y1="656.60" x2="279.75" y2="814.20" stroke="#cbcbcb"/><line x1="284.60" y1="656.60" x2="284.60" y2="814.20" stroke="#cbcbcb"/><line x1="288.70" y1="656.60" x2="288.70" y2="814.20" stroke="#cbcbcb"/><line x1="292.26" y1="656.60" x2="292.26" y2="814.20" stroke="#cbcbcb"/><line x1="295.40" y1="656.60" x2="295.40" y2="814.20" stroke="#cbcbcb"/><line x1="298.20" y1="656.60" x2="298.20" y2="814.20" stroke="#cbcbcb"/><line x1="316.65" y1="656.60" x2="316.65" y2="814.20" stroke="#cbcbcb"/><line x1="327.45" y1="656.60" x2="327.45" y2="814.20" stroke="#cbcbcb"/><line x1="335.11" y1="656.60" x2="335.11" y2="814.20" stroke="#cbcbcb"/><line x1="341.05" y1="656.60" x2="341.05" y2="814.20" stroke="#cbcbcb"/><line x1="345.90" y1="656.60" x2="345.90" y2="814.20" stroke="#cbcbcb"/><line x1="350.00" y1="656.60" x2="350.00" y2="814.20" stroke="#cbcbcb"/><line x1="353.56" y1="656.60" x2="353.56" y2="814.20" stroke="#cbcbcb"/><line x1="356.70" y1="656.60" x2="356.70" y2="814.20" stroke="#cbcbcb"/><line x1="359.50" y1="656.60" x2="359.50" y2="814.20" stroke="#cbcbcb"/><line x1="114.30" y1="814.20" x2="359.50" y2="814.20" stroke="#cbcbcb"/><line x1="114.30" y1="798.39" x2="359.50" y2="798.39" stroke="#cbcbcb"/><line x1="114.30" y1="789.14" x2="359.50" y2="789.14" stroke="#cbcbcb"/><line x1="114.30" y1="782.57" x2="359.50" y2="782.57" stroke="#cbcbcb"/><line x1="114.30" y1="777.48" x2="359.50" y2="777.48" stroke="#cbcbcb"/><line x1="114.30" y1="773.32" x2="359.50" y2="773.32" stroke="#cbcbcb"/><line x1="114.30" y1="769.80" x2="359.50" y2="769.80" stroke="#cbcbcb"/><line x1="114.30" y1="766.76" x2="359.50" y2="766.76" stroke="#cbcbcb"/><line x1="114.30" y1="764.07" x2="359.50" y2="764.07" stroke="#cbcbcb"/><line x1="114.30" y1="761.67" x2="359.50" y2="761.67" stroke="#cbcbcb"/><line x1="114.30" y1="745.85" x2="359.50" y2="745.85" stroke="#cbcbcb"/><line x1="114.30" y1="736.60" x2="359.50" y2="736.60" stroke="#cbcbcb"/><line x1="114.30" y1="730.04" x2="359.50" y2="730.04" stroke="#cbcbcb"/><line x1="114.30" y1="724.95" x2="359.50" y2="724.95" stroke="#cbcbcb"/><line x1="114.30" y1="720.79" x2="359.50" y2="720.79" stroke="#cbcbcb"/><line x1="114.30" y1="717.27" x2="359.50" y2="717.27" stroke="#cbcbcb"/><line x1="114.30" y1="714.22" x2="359.50" y2="714.22" stroke="#cbcbcb"/><line x1="114.30" y1="711.54" x2="359.50" y2="711.54" stroke="#cbcbcb"/><line x1="114.30" y1="709.13" x2="359.50" y2="709.13" stroke="#8c8c8c"/><line x1="114.30" y1="693.32" x2="359.50" y2="693.32" stroke="#cbcbcb"/><line x1="114.30" y1="684.07" x2="359.50" y2="684.07" stroke="#cbcbcb"/><line x1="114.30" y1="677.51" x2="359.50" y2="677.51" stroke="#cbcbcb"/><line x1="114.30" y1="672.41" x2="359.50" y2="672.41" stroke="#cbcbcb"/><line x1="114.30" y1="668.25" x2="359.50" y2="668.25" stroke="#cbcbcb"/><line x1="114.30" y1="664.74" x2="359.50" y2="664.74" stroke="#cbcbcb"/><line x1="114.30" y1="661.69" x2="359.50" y2="661.69" stroke="#cbcbcb"/><line x1="114.30" y1="659.00" x2="359.50" y2="659.00" stroke="#cbcbcb"/><line x1="114.30" y1="656.60" x2="359.50" y2="656.60" stroke="#cbcbcb"/></g>
<text x="105.30" y="817.60" font-size="9.8" text-anchor="end" textLength="4.70" lengthAdjust="spacingAndGlyphs">1</text>
<text x="105.30" y="765.07" font-size="9.8" text-anchor="end" textLength="9.40" lengthAdjust="spacingAndGlyphs">10</text>
<text x="105.30" y="712.53" font-size="9.8" text-anchor="end" textLength="14.10" lengthAdjust="spacingAndGlyphs">100</text>
<text x="105.30" y="660.00" font-size="9.8" text-anchor="end" textLength="18.80" lengthAdjust="spacingAndGlyphs">1000</text>
<text x="114.30" y="829.90" font-size="9.8" text-anchor="middle" textLength="4.70" lengthAdjust="spacingAndGlyphs">1</text>
<text x="175.60" y="829.90" font-size="9.8" text-anchor="middle" textLength="9.40" lengthAdjust="spacingAndGlyphs">10</text>
<text x="236.90" y="829.90" font-size="9.8" text-anchor="middle" textLength="14.10" lengthAdjust="spacingAndGlyphs">100</text>
<text x="298.20" y="829.90" font-size="9.8" text-anchor="middle" textLength="18.80" lengthAdjust="spacingAndGlyphs">1000</text>
<text x="359.50" y="829.90" font-size="9.8" text-anchor="middle" textLength="24.40" lengthAdjust="spacingAndGlyphs">10000</text>
<text x="88.40" y="735.00" font-size="9.3" font-weight="bold" text-anchor="middle" textLength="63.90" lengthAdjust="spacingAndGlyphs" transform="rotate(-90 88.40 735.00)" xml:space="preserve">Inductance(nH)</text>
<text x="236.30" y="844.90" font-size="9.3" font-weight="bold" text-anchor="middle" textLength="63.50" lengthAdjust="spacingAndGlyphs" xml:space="preserve">DC  Current (mA)</text>
<path d="M114.3,670.0 116.3,670.0 118.3,670.0 120.3,670.0 122.3,670.0 124.3,670.0 126.3,670.0 128.3,670.0 130.3,670.0 132.3,670.0 134.3,670.0 136.3,670.0 138.3,670.0 140.3,670.0 142.3,670.0 144.3,670.0 146.3,670.0 148.3,670.0 150.3,670.0 152.3,670.0 154.3,670.0 156.3,670.0 158.3,670.0 160.3,670.0 162.3,670.0 164.3,670.0 166.3,670.0 168.3,670.0 170.3,670.0 172.3,670.0 174.3,670.0 176.3,670.0 178.3,670.0 180.3,670.0 182.3,670.0 184.3,670.0 186.3,670.0 188.3,670.0 190.3,670.0 192.3,670.0 194.3,670.0 196.3,670.0 198.3,670.0 200.3,670.0 202.3,670.0 204.3,670.0 206.3,670.0 208.3,670.0 210.3,670.0 212.3,670.0 214.3,670.0 216.3,670.0 218.3,670.0 220.3,670.0 222.3,670.0 224.3,670.0 226.3,670.0 228.3,670.0 230.3,670.0 232.3,670.0 234.3,670.0 236.3,670.1 238.3,670.1 240.3,670.1 242.3,670.2 244.3,670.2 246.3,670.3 248.3,670.3 250.3,670.4 252.3,670.6 254.3,670.7 256.3,670.9 258.3,671.1 260.3,671.4 262.3,671.7 264.3,672.1 266.3,672.6 268.3,673.2 270.3,674.0 272.3,674.8 274.3,675.9 274.8,676.2 275.3,676.5 275.8,676.8 276.3,677.2 276.8,677.5 277.3,677.9 277.8,678.2 278.3,678.6 278.8,679.0 279.3,679.5 279.8,679.9 280.3,680.4 280.8,680.8 281.3,681.3 281.8,681.8 282.3,682.3 282.8,682.9 283.3,683.4 283.8,684.0 284.3,684.6 284.7,685.1" fill="none" stroke="#4677BA" stroke-width="2.2" stroke-linecap="round" stroke-linejoin="round"/>
<path d="M114.3,682.2 116.3,682.2 118.3,682.2 120.3,682.2 122.3,682.2 124.3,682.2 126.3,682.2 128.3,682.2 130.3,682.2 132.3,682.2 134.3,682.2 136.3,682.2 138.3,682.2 140.3,682.2 142.3,682.2 144.3,682.2 146.3,682.2 148.3,682.2 150.3,682.2 152.3,682.2 154.3,682.2 156.3,682.2 158.3,682.2 160.3,682.2 162.3,682.2 164.3,682.2 166.3,682.2 168.3,682.2 170.3,682.2 172.3,682.2 174.3,682.2 176.3,682.2 178.3,682.2 180.3,682.2 182.3,682.2 184.3,682.2 186.3,682.2 188.3,682.2 190.3,682.2 192.3,682.2 194.3,682.2 196.3,682.2 198.3,682.2 200.3,682.2 202.3,682.2 204.3,682.2 206.3,682.2 208.3,682.2 210.3,682.3 212.3,682.3 214.3,682.3 216.3,682.3 218.3,682.3 220.3,682.3 222.3,682.3 224.3,682.3 226.3,682.3 228.3,682.3 230.3,682.3 232.3,682.3 234.3,682.3 236.3,682.4 238.3,682.4 240.3,682.4 242.3,682.4 244.3,682.5 246.3,682.5 248.3,682.6 250.3,682.6 252.3,682.7 254.3,682.8 256.3,682.9 258.3,683.0 260.3,683.2 262.3,683.4 264.3,683.6 266.3,683.9 268.3,684.2 270.3,684.5 272.3,685.0 274.3,685.5 276.3,686.0 278.3,686.7 280.3,687.5 280.8,687.7 281.3,688.0 281.8,688.2 282.3,688.4 282.8,688.7 283.3,689.0 283.8,689.2 284.3,689.5 284.8,689.8 285.3,690.1 285.8,690.4 286.3,690.7 286.8,691.0 287.3,691.4 287.8,691.7 288.3,692.1 288.8,692.4 289.3,692.8 289.8,693.2 290.3,693.6 290.8,694.0 291.3,694.4 291.8,694.9 292.1,695.1" fill="none" stroke="#FF0000" stroke-width="2.2" stroke-linecap="round" stroke-linejoin="round"/>
<path d="M114.3,697.9 116.3,697.9 118.3,697.9 120.3,697.9 122.3,697.9 124.3,697.9 126.3,697.9 128.3,697.9 130.3,697.9 132.3,697.9 134.3,697.9 136.3,697.9 138.3,697.9 140.3,697.9 142.3,697.9 144.3,697.9 146.3,697.9 148.3,697.9 150.3,697.9 152.3,697.9 154.3,697.9 156.3,697.9 158.3,697.9 160.3,697.9 162.3,697.9 164.3,697.9 166.3,697.9 168.3,697.9 170.3,697.9 172.3,697.9 174.3,697.9 176.3,697.9 178.3,697.9 180.3,697.9 182.3,697.9 184.3,697.9 186.3,697.9 188.3,697.9 190.3,697.9 192.3,697.9 194.3,697.9 196.3,697.9 198.3,697.9 200.3,697.9 202.3,697.9 204.3,697.9 206.3,697.9 208.3,697.9 210.3,697.9 212.3,697.9 214.3,697.9 216.3,697.9 218.3,697.9 220.3,697.9 222.3,697.9 224.3,697.9 226.3,697.9 228.3,697.9 230.3,697.9 232.3,697.9 234.3,697.9 236.3,697.9 238.3,697.9 240.3,697.9 242.3,697.9 244.3,698.0 246.3,698.0 248.3,698.0 250.3,698.0 252.3,698.0 254.3,698.1 256.3,698.1 258.3,698.2 260.3,698.2 262.3,698.3 264.3,698.4 266.3,698.5 268.3,698.6 270.3,698.8 272.3,698.9 274.3,699.2 276.3,699.4 278.3,699.8 280.3,700.2 282.3,700.7 284.3,701.2 286.3,701.9 288.3,702.7 290.3,703.6 292.3,704.7 292.8,705.0 293.3,705.3 293.8,705.6 294.3,706.0 294.8,706.3 295.3,706.7 295.8,707.1 296.3,707.4 296.8,707.8 297.3,708.2 297.8,708.7 298.3,709.1 298.8,709.5 299.3,710.0 299.8,710.5 300.3,711.0 300.8,711.5 301.3,712.0 301.8,712.5 302.3,713.1 302.6,713.4" fill="none" stroke="#84CC4A" stroke-width="2.2" stroke-linecap="round" stroke-linejoin="round"/>
<path d="M114.30,713.80 C125.2,713.8 160.7,713.8 180.0,713.8 C199.3,713.8 217.2,713.6 230.0,713.8 C242.8,714.0 249.2,714.8 256.5,715.2 C263.9,715.6 268.2,715.5 274.1,716.1 C280.0,716.7 287.3,717.8 291.7,718.8 C296.1,719.8 298.1,720.8 300.5,722.3 C302.9,723.8 304.4,725.2 305.8,727.6 C307.2,730.0 308.5,735.3 309.0,736.8" fill="none" stroke="#7030A0" stroke-width="2.2" stroke-linecap="round" stroke-linejoin="round"/>
<rect x="282.30" y="659.70" width="27.60" height="14.60" fill="#fff"/>
<text x="296.10" y="669.70" font-size="8.3" text-anchor="middle" textLength="17.60" lengthAdjust="spacingAndGlyphs" stroke="#000" stroke-width="0.15">NR56</text>
<rect x="292.00" y="677.90" width="27.30" height="14.60" fill="#fff"/>
<text x="305.65" y="687.90" font-size="8.3" text-anchor="middle" textLength="17.30" lengthAdjust="spacingAndGlyphs" stroke="#000" stroke-width="0.15">NR33</text>
<rect x="308.40" y="699.10" width="27.60" height="14.60" fill="#fff"/>
<text x="322.20" y="709.10" font-size="8.3" text-anchor="middle" textLength="17.60" lengthAdjust="spacingAndGlyphs" stroke="#000" stroke-width="0.15">NR16</text>
<rect x="313.20" y="724.30" width="28.80" height="14.60" fill="#fff"/>
<text x="327.60" y="734.30" font-size="8.3" text-anchor="middle" textLength="18.80" lengthAdjust="spacingAndGlyphs" stroke="#000" stroke-width="0.15">N77N</text>
<rect x="402.30" y="624.10" width="302.10" height="226.80" fill="#fff"/>
<line x1="400.70" y1="623.60" x2="400.70" y2="851.40" stroke="#ececec" stroke-width="1"/>
<line x1="402.30" y1="623.35" x2="402.30" y2="851.65" stroke="#a0a0a0" stroke-width="1.5"/>
<line x1="403.05" y1="624.10" x2="705.15" y2="624.10" stroke="#b8b8b8" stroke-width="1.5"/>
<line x1="704.40" y1="624.85" x2="704.40" y2="851.65" stroke="#c8c8c8" stroke-width="1.5"/>
<line x1="403.05" y1="850.90" x2="703.65" y2="850.90" stroke="#bcbcbc" stroke-width="1.5"/>
<text x="554.05" y="648.20" font-size="14.3" font-weight="bold" text-anchor="middle" textLength="124.10" lengthAdjust="spacingAndGlyphs" xml:space="preserve">MCL1608N  Series</text>
<g stroke-width="1" shape-rendering="crispEdges"><line x1="439.30" y1="658.20" x2="439.30" y2="815.40" stroke="#cbcbcb"/><line x1="457.76" y1="658.20" x2="457.76" y2="815.40" stroke="#cbcbcb"/><line x1="468.56" y1="658.20" x2="468.56" y2="815.40" stroke="#cbcbcb"/><line x1="476.22" y1="658.20" x2="476.22" y2="815.40" stroke="#cbcbcb"/><line x1="482.16" y1="658.20" x2="482.16" y2="815.40" stroke="#cbcbcb"/><line x1="487.02" y1="658.20" x2="487.02" y2="815.40" stroke="#cbcbcb"/><line x1="491.13" y1="658.20" x2="491.13" y2="815.40" stroke="#cbcbcb"/><line x1="494.68" y1="658.20" x2="494.68" y2="815.40" stroke="#cbcbcb"/><line x1="497.82" y1="658.20" x2="497.82" y2="815.40" stroke="#cbcbcb"/><line x1="500.62" y1="658.20" x2="500.62" y2="815.40" stroke="#cbcbcb"/><line x1="519.09" y1="658.20" x2="519.09" y2="815.40" stroke="#cbcbcb"/><line x1="529.88" y1="658.20" x2="529.88" y2="815.40" stroke="#cbcbcb"/><line x1="537.55" y1="658.20" x2="537.55" y2="815.40" stroke="#cbcbcb"/><line x1="543.49" y1="658.20" x2="543.49" y2="815.40" stroke="#cbcbcb"/><line x1="548.35" y1="658.20" x2="548.35" y2="815.40" stroke="#cbcbcb"/><line x1="552.45" y1="658.20" x2="552.45" y2="815.40" stroke="#cbcbcb"/><line x1="556.01" y1="658.20" x2="556.01" y2="815.40" stroke="#cbcbcb"/><line x1="559.14" y1="658.20" x2="559.14" y2="815.40" stroke="#cbcbcb"/><line x1="561.95" y1="658.20" x2="561.95" y2="815.40" stroke="#cbcbcb"/><line x1="580.41" y1="658.20" x2="580.41" y2="815.40" stroke="#cbcbcb"/><line x1="591.21" y1="658.20" x2="591.21" y2="815.40" stroke="#cbcbcb"/><line x1="598.87" y1="658.20" x2="598.87" y2="815.40" stroke="#cbcbcb"/><line x1="604.81" y1="658.20" x2="604.81" y2="815.40" stroke="#cbcbcb"/><line x1="609.67" y1="658.20" x2="609.67" y2="815.40" stroke="#cbcbcb"/><line x1="613.78" y1="658.20" x2="613.78" y2="815.40" stroke="#cbcbcb"/><line x1="617.33" y1="658.20" x2="617.33" y2="815.40" stroke="#cbcbcb"/><line x1="620.47" y1="658.20" x2="620.47" y2="815.40" stroke="#cbcbcb"/><line x1="623.28" y1="658.20" x2="623.28" y2="815.40" stroke="#8c8c8c"/><line x1="641.74" y1="658.20" x2="641.74" y2="815.40" stroke="#cbcbcb"/><line x1="652.53" y1="658.20" x2="652.53" y2="815.40" stroke="#cbcbcb"/><line x1="660.20" y1="658.20" x2="660.20" y2="815.40" stroke="#cbcbcb"/><line x1="666.14" y1="658.20" x2="666.14" y2="815.40" stroke="#cbcbcb"/><line x1="671.00" y1="658.20" x2="671.00" y2="815.40" stroke="#cbcbcb"/><line x1="675.10" y1="658.20" x2="675.10" y2="815.40" stroke="#cbcbcb"/><line x1="678.66" y1="658.20" x2="678.66" y2="815.40" stroke="#cbcbcb"/><line x1="681.79" y1="658.20" x2="681.79" y2="815.40" stroke="#cbcbcb"/><line x1="684.60" y1="658.20" x2="684.60" y2="815.40" stroke="#cbcbcb"/><line x1="439.30" y1="815.40" x2="684.60" y2="815.40" stroke="#cbcbcb"/><line x1="439.30" y1="799.63" x2="684.60" y2="799.63" stroke="#cbcbcb"/><line x1="439.30" y1="790.40" x2="684.60" y2="790.40" stroke="#cbcbcb"/><line x1="439.30" y1="783.85" x2="684.60" y2="783.85" stroke="#cbcbcb"/><line x1="439.30" y1="778.77" x2="684.60" y2="778.77" stroke="#cbcbcb"/><line x1="439.30" y1="774.62" x2="684.60" y2="774.62" stroke="#cbcbcb"/><line x1="439.30" y1="771.12" x2="684.60" y2="771.12" stroke="#cbcbcb"/><line x1="439.30" y1="768.08" x2="684.60" y2="768.08" stroke="#cbcbcb"/><line x1="439.30" y1="765.40" x2="684.60" y2="765.40" stroke="#cbcbcb"/><line x1="439.30" y1="763.00" x2="684.60" y2="763.00" stroke="#cbcbcb"/><line x1="439.30" y1="747.23" x2="684.60" y2="747.23" stroke="#cbcbcb"/><line x1="439.30" y1="738.00" x2="684.60" y2="738.00" stroke="#cbcbcb"/><line x1="439.30" y1="731.45" x2="684.60" y2="731.45" stroke="#cbcbcb"/><line x1="439.30" y1="726.37" x2="684.60" y2="726.37" stroke="#cbcbcb"/><line x1="439.30" y1="722.22" x2="684.60" y2="722.22" stroke="#cbcbcb"/><line x1="439.30" y1="718.72" x2="684.60" y2="718.72" stroke="#cbcbcb"/><line x1="439.30" y1="715.68" x2="684.60" y2="715.68" stroke="#cbcbcb"/><line x1="439.30" y1="713.00" x2="684.60" y2="713.00" stroke="#cbcbcb"/><line x1="439.30" y1="710.60" x2="684.60" y2="710.60" stroke="#8c8c8c"/><line x1="439.30" y1="694.83" x2="684.60" y2="694.83" stroke="#cbcbcb"/><line x1="439.30" y1="685.60" x2="684.60" y2="685.60" stroke="#cbcbcb"/><line x1="439.30" y1="679.05" x2="684.60" y2="679.05" stroke="#cbcbcb"/><line x1="439.30" y1="673.97" x2="684.60" y2="673.97" stroke="#cbcbcb"/><line x1="439.30" y1="669.82" x2="684.60" y2="669.82" stroke="#cbcbcb"/><line x1="439.30" y1="666.32" x2="684.60" y2="666.32" stroke="#cbcbcb"/><line x1="439.30" y1="663.28" x2="684.60" y2="663.28" stroke="#cbcbcb"/><line x1="439.30" y1="660.60" x2="684.60" y2="660.60" stroke="#cbcbcb"/><line x1="439.30" y1="658.20" x2="684.60" y2="658.20" stroke="#cbcbcb"/></g>
<text x="431.00" y="818.80" font-size="9.8" text-anchor="end" textLength="4.70" lengthAdjust="spacingAndGlyphs">1</text>
<text x="431.00" y="766.40" font-size="9.8" text-anchor="end" textLength="9.40" lengthAdjust="spacingAndGlyphs">10</text>
<text x="431.00" y="714.00" font-size="9.8" text-anchor="end" textLength="14.10" lengthAdjust="spacingAndGlyphs">100</text>
<text x="431.00" y="661.60" font-size="9.8" text-anchor="end" textLength="18.80" lengthAdjust="spacingAndGlyphs">1000</text>
<text x="439.30" y="831.00" font-size="9.8" text-anchor="middle" textLength="4.70" lengthAdjust="spacingAndGlyphs">1</text>
<text x="500.62" y="831.00" font-size="9.8" text-anchor="middle" textLength="9.40" lengthAdjust="spacingAndGlyphs">10</text>
<text x="561.95" y="831.00" font-size="9.8" text-anchor="middle" textLength="14.10" lengthAdjust="spacingAndGlyphs">100</text>
<text x="623.28" y="831.00" font-size="9.8" text-anchor="middle" textLength="18.80" lengthAdjust="spacingAndGlyphs">1000</text>
<text x="684.60" y="831.00" font-size="9.8" text-anchor="middle" textLength="24.40" lengthAdjust="spacingAndGlyphs">10000</text>
<text x="413.70" y="736.50" font-size="9.3" font-weight="bold" text-anchor="middle" textLength="63.90" lengthAdjust="spacingAndGlyphs" transform="rotate(-90 413.70 736.50)" xml:space="preserve">Inductance(nH)</text>
<text x="561.70" y="846.30" font-size="9.3" font-weight="bold" text-anchor="middle" textLength="63.50" lengthAdjust="spacingAndGlyphs" xml:space="preserve">DC  Current (mA)</text>
<path d="M439.3,671.9 441.3,671.9 443.3,671.9 445.3,671.9 447.3,671.9 449.3,671.9 451.3,671.9 453.3,671.9 455.3,671.9 457.3,671.9 459.3,671.9 461.3,671.9 463.3,671.9 465.3,671.9 467.3,671.9 469.3,671.9 471.3,671.9 473.3,671.9 475.3,671.9 477.3,671.9 479.3,671.9 481.3,671.9 483.3,671.9 485.3,671.9 487.3,671.9 489.3,671.9 491.3,671.9 493.3,671.9 495.3,671.9 497.3,671.9 499.3,671.9 501.3,671.9 503.3,671.9 505.3,671.9 507.3,671.9 509.3,671.9 511.3,671.9 513.3,671.9 515.3,671.9 517.3,671.9 519.3,671.9 521.3,671.9 523.3,671.9 525.3,671.9 527.3,671.9 529.3,671.9 531.3,671.9 533.3,671.9 535.3,671.9 537.3,671.9 539.3,671.9 541.3,671.9 543.3,671.9 545.3,671.9 547.3,671.9 549.3,671.9 551.3,671.9 553.3,671.9 555.3,671.9 557.3,671.9 559.3,671.9 561.3,671.9 563.3,671.9 565.3,671.9 567.3,671.9 569.3,671.9 571.3,671.9 573.3,671.9 575.3,671.9 577.3,671.9 579.3,671.9 581.3,672.0 583.3,672.0 585.3,672.0 587.3,672.1 589.3,672.1 591.3,672.2 593.3,672.2 595.3,672.3 597.3,672.4 599.3,672.5 601.3,672.7 603.3,672.9 605.3,673.1 607.3,673.4 609.3,673.8 611.3,674.2 613.3,674.7 615.3,675.3 617.3,676.1 619.3,677.0 621.3,678.1 623.3,679.4 623.8,679.7 624.3,680.1 624.8,680.5 625.3,680.9 625.8,681.3 626.3,681.7 626.8,682.1 627.3,682.6 627.8,683.0 628.3,683.5 628.8,684.0 629.3,684.5 629.8,685.1 630.3,685.6 630.8,686.2 631.3,686.8 631.8,687.4 632.3,688.0 632.8,688.6 633.3,689.2 633.8,689.9 634.3,690.6 634.8,691.3 634.9,691.4" fill="none" stroke="#4677BA" stroke-width="2.2" stroke-linecap="round" stroke-linejoin="round"/>
<path d="M439.3,683.8 441.3,683.8 443.3,683.8 445.3,683.8 447.3,683.8 449.3,683.8 451.3,683.8 453.3,683.8 455.3,683.8 457.3,683.8 459.3,683.8 461.3,683.8 463.3,683.8 465.3,683.8 467.3,683.8 469.3,683.8 471.3,683.8 473.3,683.8 475.3,683.8 477.3,683.8 479.3,683.8 481.3,683.8 483.3,683.8 485.3,683.8 487.3,683.8 489.3,683.8 491.3,683.8 493.3,683.8 495.3,683.8 497.3,683.8 499.3,683.8 501.3,683.8 503.3,683.8 505.3,683.8 507.3,683.8 509.3,683.8 511.3,683.8 513.3,683.8 515.3,683.8 517.3,683.8 519.3,683.8 521.3,683.8 523.3,683.8 525.3,683.8 527.3,683.8 529.3,683.8 531.3,683.8 533.3,683.8 535.3,683.8 537.3,683.8 539.3,683.8 541.3,683.8 543.3,683.8 545.3,683.8 547.3,683.8 549.3,683.8 551.3,683.8 553.3,683.8 555.3,683.8 557.3,683.8 559.3,683.8 561.3,683.8 563.3,683.8 565.3,683.8 567.3,683.8 569.3,683.8 571.3,683.8 573.3,683.8 575.3,683.8 577.3,683.8 579.3,683.8 581.3,683.9 583.3,683.9 585.3,683.9 587.3,683.9 589.3,683.9 591.3,684.0 593.3,684.0 595.3,684.1 597.3,684.2 599.3,684.2 601.3,684.4 603.3,684.5 605.3,684.6 607.3,684.8 609.3,685.1 611.3,685.3 613.3,685.7 615.3,686.1 617.3,686.6 619.3,687.2 621.3,687.9 623.3,688.7 625.3,689.7 627.3,690.8 629.3,692.1 631.3,693.7 631.8,694.1 632.3,694.5 632.8,694.9 633.3,695.4 633.8,695.9 634.3,696.3 634.8,696.8 635.3,697.4 635.8,697.9 636.3,698.4 636.8,699.0 637.3,699.5 637.8,700.1 638.3,700.7 638.8,701.3 639.3,702.0 639.8,702.6 640.3,703.3 640.8,703.9 641.3,704.6 641.8,705.3 642.0,705.6" fill="none" stroke="#FF0000" stroke-width="2.2" stroke-linecap="round" stroke-linejoin="round"/>
<path d="M439.3,699.4 441.3,699.4 443.3,699.4 445.3,699.4 447.3,699.4 449.3,699.4 451.3,699.4 453.3,699.4 455.3,699.4 457.3,699.4 459.3,699.4 461.3,699.4 463.3,699.4 465.3,699.4 467.3,699.4 469.3,699.4 471.3,699.4 473.3,699.4 475.3,699.4 477.3,699.4 479.3,699.4 481.3,699.4 483.3,699.4 485.3,699.4 487.3,699.4 489.3,699.4 491.3,699.4 493.3,699.4 495.3,699.4 497.3,699.4 499.3,699.4 501.3,699.4 503.3,699.4 505.3,699.4 507.3,699.4 509.3,699.4 511.3,699.4 513.3,699.4 515.3,699.4 517.3,699.4 519.3,699.4 521.3,699.4 523.3,699.4 525.3,699.4 527.3,699.4 529.3,699.4 531.3,699.4 533.3,699.4 535.3,699.4 537.3,699.4 539.3,699.4 541.3,699.4 543.3,699.4 545.3,699.4 547.3,699.4 549.3,699.4 551.3,699.4 553.3,699.4 555.3,699.4 557.3,699.4 559.3,699.4 561.3,699.4 563.3,699.4 565.3,699.4 567.3,699.4 569.3,699.4 571.3,699.4 573.3,699.4 575.3,699.4 577.3,699.4 579.3,699.4 581.3,699.5 583.3,699.5 585.3,699.5 587.3,699.5 589.3,699.5 591.3,699.6 593.3,699.6 595.3,699.7 597.3,699.7 599.3,699.8 601.3,699.8 603.3,699.9 605.3,700.0 607.3,700.1 609.3,700.2 611.3,700.4 613.3,700.6 615.3,700.7 617.3,701.0 619.3,701.2 621.3,701.5 623.3,701.9 625.3,702.3 627.3,702.8 629.3,703.3 631.3,703.9 633.3,704.6 635.3,705.3 637.3,706.2 637.8,706.4 638.3,706.7 638.8,706.9 639.3,707.2 639.8,707.5 640.3,707.7 640.8,708.0 641.3,708.3 641.8,708.6 642.3,708.9 642.8,709.2 643.3,709.5 643.8,709.8 644.3,710.2 644.8,710.5 645.3,710.8 645.8,711.2 646.3,711.6 646.8,711.9 647.3,712.3 647.6,712.6" fill="none" stroke="#84CC4A" stroke-width="2.2" stroke-linecap="round" stroke-linejoin="round"/>
<path d="M439.3,716.1 441.3,716.1 443.3,716.1 445.3,716.1 447.3,716.1 449.3,716.1 451.3,716.1 453.3,716.1 455.3,716.1 457.3,716.1 459.3,716.1 461.3,716.1 463.3,716.1 465.3,716.1 467.3,716.1 469.3,716.1 471.3,716.1 473.3,716.1 475.3,716.1 477.3,716.1 479.3,716.1 481.3,716.1 483.3,716.1 485.3,716.1 487.3,716.1 489.3,716.1 491.3,716.1 493.3,716.1 495.3,716.1 497.3,716.1 499.3,716.1 501.3,716.1 503.3,716.1 505.3,716.1 507.3,716.1 509.3,716.1 511.3,716.1 513.3,716.1 515.3,716.1 517.3,716.1 519.3,716.1 521.3,716.1 523.3,716.1 525.3,716.1 527.3,716.1 529.3,716.1 531.3,716.1 533.3,716.1 535.3,716.1 537.3,716.1 539.3,716.1 541.3,716.1 543.3,716.1 545.3,716.1 547.3,716.1 549.3,716.1 551.3,716.1 553.3,716.1 555.3,716.1 557.3,716.1 559.3,716.1 561.3,716.1 563.3,716.1 565.3,716.1 567.3,716.1 569.3,716.1 571.3,716.1 573.3,716.1 575.3,716.2 577.3,716.2 579.3,716.2 581.3,716.2 583.3,716.2 585.3,716.2 587.3,716.2 589.3,716.2 591.3,716.2 593.3,716.2 595.3,716.2 597.3,716.2 599.3,716.3 601.3,716.3 603.3,716.3 605.3,716.3 607.3,716.4 609.3,716.4 611.3,716.5 613.3,716.5 615.3,716.6 617.3,716.7 619.3,716.8 621.3,717.0 623.3,717.1 625.3,717.3 627.3,717.5 629.3,717.8 631.3,718.1 633.3,718.5 635.3,718.9 637.3,719.4 639.3,720.1 641.3,720.8 641.8,721.0 642.3,721.2 642.8,721.4 643.3,721.6 643.8,721.8 644.3,722.0 644.8,722.3 645.3,722.5 645.8,722.8 646.3,723.0 646.8,723.3 647.3,723.6 647.8,723.9 648.3,724.2 648.8,724.5 649.3,724.8 649.8,725.2 650.3,725.5 650.8,725.9 651.3,726.2 651.8,726.6 652.3,727.0 652.6,727.2" fill="none" stroke="#7030A0" stroke-width="2.2" stroke-linecap="round" stroke-linejoin="round"/>
<rect x="625.20" y="660.80" width="27.40" height="14.60" fill="#fff"/>
<text x="638.90" y="670.80" font-size="8.3" text-anchor="middle" textLength="17.40" lengthAdjust="spacingAndGlyphs" stroke="#000" stroke-width="0.15">NR56</text>
<rect x="642.30" y="684.40" width="28.00" height="14.60" fill="#fff"/>
<text x="656.30" y="694.40" font-size="8.3" text-anchor="middle" textLength="18.00" lengthAdjust="spacingAndGlyphs" stroke="#000" stroke-width="0.15">NR33</text>
<rect x="648.50" y="703.10" width="27.90" height="14.60" fill="#fff"/>
<text x="662.45" y="713.10" font-size="8.3" text-anchor="middle" textLength="17.90" lengthAdjust="spacingAndGlyphs" stroke="#000" stroke-width="0.15">NR16</text>
<rect x="653.70" y="723.80" width="29.40" height="14.60" fill="#fff"/>
<text x="668.40" y="733.80" font-size="8.3" text-anchor="middle" textLength="19.40" lengthAdjust="spacingAndGlyphs" stroke="#000" stroke-width="0.15">N77N</text>
<text x="78.90" y="1028.60" font-size="31" font-weight="bold" textLength="111.70" lengthAdjust="spacingAndGlyphs" fill="#0000FF">Sunlord</text>
<line x1="205" y1="1023.5" x2="717.6" y2="1023.5" stroke="#000" stroke-width="1.8"/>
<text x="263.70" y="1018.90" font-size="8" font-weight="bold" textLength="365.40" lengthAdjust="spacingAndGlyphs">Specifications subject to change without notice. Please check our website for latest information.</text>
<text x="642.20" y="1018.90" font-size="8" font-weight="bold" textLength="72.70" lengthAdjust="spacingAndGlyphs">Revised 2021/05/15</text>
<text x="115.3" y="1033.7" font-size="8" textLength="604.5" lengthAdjust="spacingAndGlyphs">Sunlord Industrial Park, Dafuyuan Industrial Zone, Guanlan, Shenzhen, China 518110 <tspan font-weight="bold">Tel</tspan>: 0086-755-29832333 <tspan font-weight="bold">Fax</tspan>: 0086-755-82269029 <tspan font-weight="bold">E-Mail</tspan>: sunlord@sunlordinc.com</text>
</svg></body></html>
